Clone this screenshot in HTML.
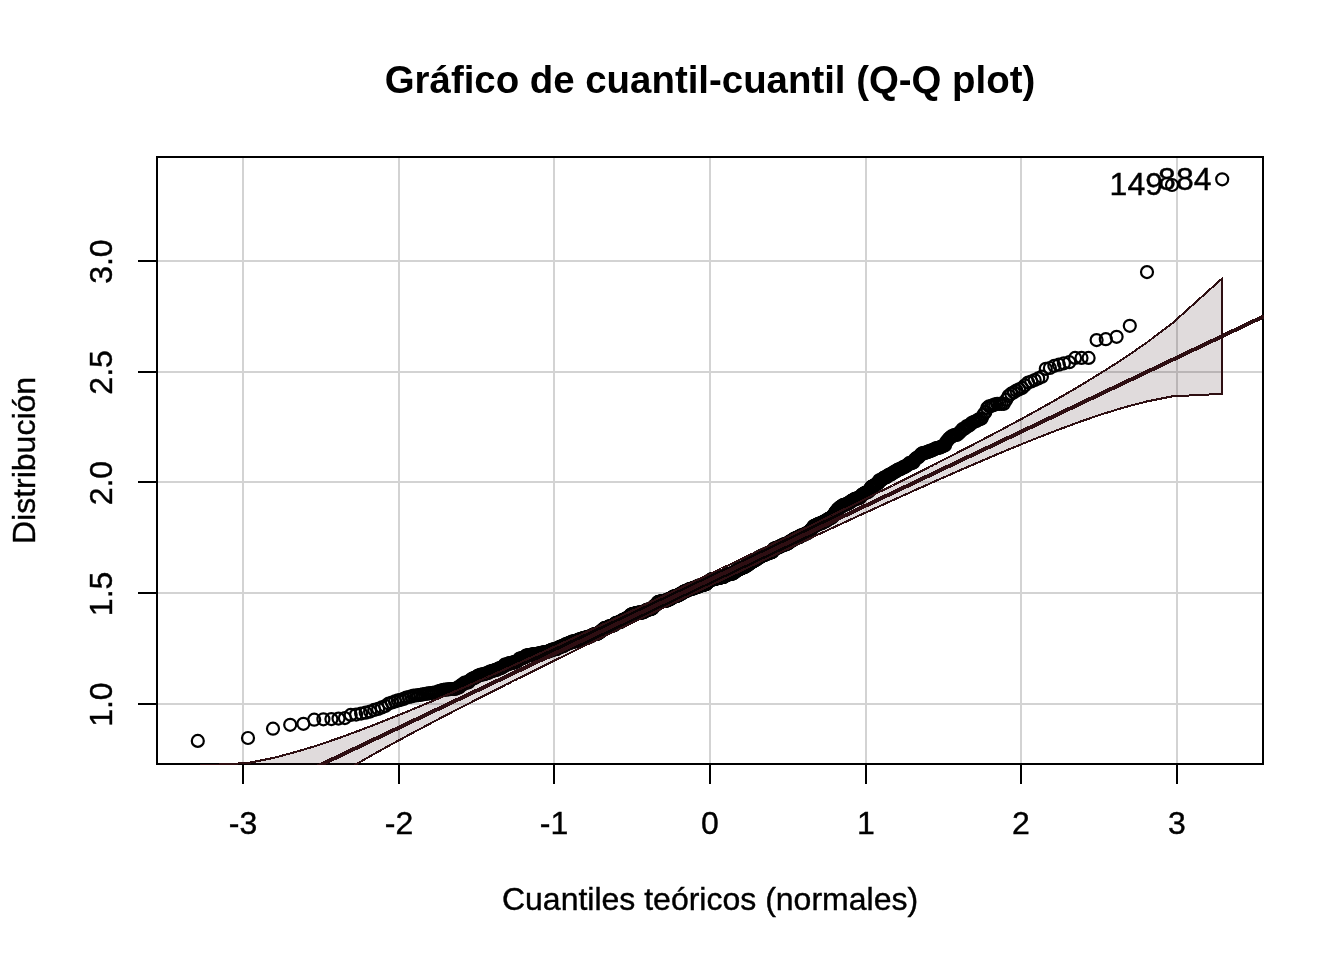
<!DOCTYPE html>
<html lang="es"><head><meta charset="utf-8"><title>Gráfico de cuantil-cuantil (Q-Q plot)</title>
<style>html,body{margin:0;padding:0;background:#fff;}svg{display:block;}text{font-family:"Liberation Sans",sans-serif;fill:#000;stroke:#000;stroke-width:0.4px;}text.b{stroke:none;}</style></head><body>
<svg width="1344" height="960" viewBox="0 0 1344 960">
<rect width="1344" height="960" fill="#fff"/>
<defs><clipPath id="c"><rect x="156" y="156" width="1108" height="609"/></clipPath></defs>
<g stroke="#d3d3d3" stroke-width="2" shape-rendering="crispEdges">
<line x1="243" y1="157" x2="243" y2="764"/>
<line x1="399" y1="157" x2="399" y2="764"/>
<line x1="554" y1="157" x2="554" y2="764"/>
<line x1="710" y1="157" x2="710" y2="764"/>
<line x1="866" y1="157" x2="866" y2="764"/>
<line x1="1021" y1="157" x2="1021" y2="764"/>
<line x1="1177" y1="157" x2="1177" y2="764"/>
<line x1="157" y1="704" x2="1263" y2="704"/>
<line x1="157" y1="593" x2="1263" y2="593"/>
<line x1="157" y1="482" x2="1263" y2="482"/>
<line x1="157" y1="372" x2="1263" y2="372"/>
<line x1="157" y1="261" x2="1263" y2="261"/>
</g>
<g stroke="#000" stroke-width="2" fill="none" shape-rendering="crispEdges">
<rect x="157" y="157" width="1106" height="607"/>
<line x1="243" y1="764" x2="1177" y2="764"/>
<line x1="243" y1="764" x2="243" y2="784"/>
<line x1="399" y1="764" x2="399" y2="784"/>
<line x1="554" y1="764" x2="554" y2="784"/>
<line x1="710" y1="764" x2="710" y2="784"/>
<line x1="866" y1="764" x2="866" y2="784"/>
<line x1="1021" y1="764" x2="1021" y2="784"/>
<line x1="1177" y1="764" x2="1177" y2="784"/>
<line x1="157" y1="704" x2="138" y2="704"/>
<line x1="157" y1="593" x2="138" y2="593"/>
<line x1="157" y1="482" x2="138" y2="482"/>
<line x1="157" y1="372" x2="138" y2="372"/>
<line x1="157" y1="261" x2="138" y2="261"/>
</g>
<g clip-path="url(#c)"><g fill="none" stroke="#000" stroke-width="2.2" >
<circle cx="197.8" cy="740.9" r="6"/>
<circle cx="248.0" cy="738.0" r="6"/>
<circle cx="273.0" cy="728.7" r="6"/>
<circle cx="290.2" cy="724.8" r="6"/>
<circle cx="303.4" cy="723.8" r="6"/>
<circle cx="314.2" cy="719.7" r="6"/>
<circle cx="323.4" cy="719.3" r="6"/>
<circle cx="331.4" cy="719.1" r="6"/>
<circle cx="338.5" cy="718.6" r="6"/>
<circle cx="344.9" cy="718.1" r="6"/>
<circle cx="350.7" cy="714.9" r="6"/>
<circle cx="356.1" cy="714.6" r="6"/>
<circle cx="361.1" cy="713.6" r="6"/>
<circle cx="365.7" cy="712.7" r="6"/>
<circle cx="370.1" cy="711.6" r="6"/>
<circle cx="374.2" cy="709.9" r="6"/>
<circle cx="378.1" cy="708.9" r="6"/>
<circle cx="381.8" cy="707.4" r="6"/>
<circle cx="385.3" cy="706.0" r="6"/>
<circle cx="388.7" cy="703.6" r="6"/>
<circle cx="391.9" cy="702.5" r="6"/>
<circle cx="395.0" cy="701.4" r="6"/>
<circle cx="397.9" cy="700.4" r="6"/>
<circle cx="400.8" cy="699.8" r="6"/>
<circle cx="403.6" cy="698.9" r="6"/>
<circle cx="406.2" cy="697.6" r="6"/>
<circle cx="408.8" cy="697.0" r="6"/>
<circle cx="411.3" cy="696.4" r="6"/>
<circle cx="413.7" cy="695.6" r="6"/>
<circle cx="416.1" cy="695.5" r="6"/>
<circle cx="418.4" cy="695.1" r="6"/>
<circle cx="420.6" cy="694.8" r="6"/>
<circle cx="422.8" cy="694.4" r="6"/>
<circle cx="424.9" cy="694.0" r="6"/>
<circle cx="426.9" cy="693.7" r="6"/>
<circle cx="428.9" cy="693.4" r="6"/>
<circle cx="430.9" cy="693.0" r="6"/>
<circle cx="432.8" cy="692.8" r="6"/>
<circle cx="434.7" cy="692.6" r="6"/>
<circle cx="436.6" cy="692.4" r="6"/>
<circle cx="438.4" cy="691.4" r="6"/>
<circle cx="440.1" cy="690.9" r="6"/>
<circle cx="441.9" cy="690.3" r="6"/>
<circle cx="443.6" cy="689.9" r="6"/>
<circle cx="445.3" cy="689.7" r="6"/>
<circle cx="446.9" cy="689.5" r="6"/>
<circle cx="448.5" cy="689.3" r="6"/>
<circle cx="450.1" cy="689.1" r="6"/>
<circle cx="451.7" cy="689.0" r="6"/>
<circle cx="453.2" cy="689.0" r="6"/>
<circle cx="454.7" cy="689.0" r="6"/>
<circle cx="456.2" cy="688.5" r="6"/>
<circle cx="457.7" cy="687.4" r="6"/>
<circle cx="459.1" cy="687.4" r="6"/>
<circle cx="460.5" cy="686.0" r="6"/>
<circle cx="461.9" cy="684.5" r="6"/>
<circle cx="463.3" cy="684.3" r="6"/>
<circle cx="464.7" cy="682.6" r="6"/>
<circle cx="466.0" cy="682.5" r="6"/>
<circle cx="467.3" cy="682.4" r="6"/>
<circle cx="468.6" cy="682.3" r="6"/>
<circle cx="469.9" cy="680.6" r="6"/>
<circle cx="471.2" cy="679.3" r="6"/>
<circle cx="472.4" cy="678.7" r="6"/>
<circle cx="473.7" cy="678.2" r="6"/>
<circle cx="474.9" cy="677.8" r="6"/>
<circle cx="476.1" cy="677.0" r="6"/>
<circle cx="477.3" cy="676.2" r="6"/>
<circle cx="478.5" cy="675.5" r="6"/>
<circle cx="479.7" cy="675.1" r="6"/>
<circle cx="480.8" cy="674.7" r="6"/>
<circle cx="482.0" cy="674.5" r="6"/>
<circle cx="483.1" cy="674.3" r="6"/>
<circle cx="484.3" cy="674.2" r="6"/>
<circle cx="485.4" cy="673.6" r="6"/>
<circle cx="486.5" cy="673.3" r="6"/>
<circle cx="487.5" cy="673.0" r="6"/>
<circle cx="488.6" cy="672.8" r="6"/>
<circle cx="489.7" cy="671.6" r="6"/>
<circle cx="490.8" cy="671.6" r="6"/>
<circle cx="491.8" cy="671.2" r="6"/>
<circle cx="492.8" cy="670.8" r="6"/>
<circle cx="493.9" cy="670.5" r="6"/>
<circle cx="494.9" cy="670.0" r="6"/>
<circle cx="495.9" cy="669.9" r="6"/>
<circle cx="496.9" cy="669.8" r="6"/>
<circle cx="497.9" cy="668.9" r="6"/>
<circle cx="498.9" cy="668.4" r="6"/>
<circle cx="499.8" cy="668.3" r="6"/>
<circle cx="500.8" cy="668.2" r="6"/>
<circle cx="501.8" cy="667.3" r="6"/>
<circle cx="502.7" cy="667.1" r="6"/>
<circle cx="503.7" cy="666.5" r="6"/>
<circle cx="504.6" cy="664.7" r="6"/>
<circle cx="505.5" cy="664.7" r="6"/>
<circle cx="506.4" cy="664.6" r="6"/>
<circle cx="507.4" cy="664.4" r="6"/>
<circle cx="508.3" cy="664.2" r="6"/>
<circle cx="509.2" cy="663.2" r="6"/>
<circle cx="510.1" cy="663.2" r="6"/>
<circle cx="510.9" cy="663.2" r="6"/>
<circle cx="511.8" cy="663.2" r="6"/>
<circle cx="512.7" cy="663.0" r="6"/>
<circle cx="513.6" cy="662.1" r="6"/>
<circle cx="514.4" cy="662.1" r="6"/>
<circle cx="515.3" cy="661.9" r="6"/>
<circle cx="516.1" cy="661.9" r="6"/>
<circle cx="517.0" cy="661.4" r="6"/>
<circle cx="517.8" cy="660.4" r="6"/>
<circle cx="518.7" cy="660.2" r="6"/>
<circle cx="519.5" cy="658.6" r="6"/>
<circle cx="520.3" cy="658.5" r="6"/>
<circle cx="521.1" cy="658.4" r="6"/>
<circle cx="521.9" cy="658.4" r="6"/>
<circle cx="522.7" cy="658.1" r="6"/>
<circle cx="523.5" cy="657.6" r="6"/>
<circle cx="524.3" cy="657.5" r="6"/>
<circle cx="525.1" cy="657.2" r="6"/>
<circle cx="525.9" cy="655.7" r="6"/>
<circle cx="526.7" cy="655.6" r="6"/>
<circle cx="527.5" cy="655.6" r="6"/>
<circle cx="528.3" cy="655.2" r="6"/>
<circle cx="529.0" cy="655.2" r="6"/>
<circle cx="529.8" cy="655.2" r="6"/>
<circle cx="530.5" cy="655.1" r="6"/>
<circle cx="531.3" cy="655.0" r="6"/>
<circle cx="532.1" cy="654.4" r="6"/>
<circle cx="532.8" cy="654.4" r="6"/>
<circle cx="533.5" cy="654.4" r="6"/>
<circle cx="534.3" cy="654.3" r="6"/>
<circle cx="535.0" cy="654.1" r="6"/>
<circle cx="535.8" cy="654.0" r="6"/>
<circle cx="536.5" cy="653.9" r="6"/>
<circle cx="537.2" cy="653.8" r="6"/>
<circle cx="537.9" cy="653.8" r="6"/>
<circle cx="538.6" cy="653.6" r="6"/>
<circle cx="539.4" cy="653.4" r="6"/>
<circle cx="540.1" cy="653.3" r="6"/>
<circle cx="540.8" cy="653.0" r="6"/>
<circle cx="541.5" cy="652.9" r="6"/>
<circle cx="542.2" cy="652.7" r="6"/>
<circle cx="542.9" cy="652.6" r="6"/>
<circle cx="543.6" cy="652.6" r="6"/>
<circle cx="544.3" cy="652.4" r="6"/>
<circle cx="544.9" cy="652.3" r="6"/>
<circle cx="545.6" cy="652.1" r="6"/>
<circle cx="546.3" cy="652.0" r="6"/>
<circle cx="547.0" cy="651.9" r="6"/>
<circle cx="547.7" cy="651.6" r="6"/>
<circle cx="548.3" cy="651.5" r="6"/>
<circle cx="549.0" cy="651.3" r="6"/>
<circle cx="549.7" cy="650.8" r="6"/>
<circle cx="550.3" cy="650.7" r="6"/>
<circle cx="551.0" cy="650.3" r="6"/>
<circle cx="551.6" cy="649.8" r="6"/>
<circle cx="552.3" cy="649.7" r="6"/>
<circle cx="552.9" cy="649.6" r="6"/>
<circle cx="553.6" cy="649.5" r="6"/>
<circle cx="554.2" cy="649.3" r="6"/>
<circle cx="554.9" cy="649.3" r="6"/>
<circle cx="555.5" cy="649.2" r="6"/>
<circle cx="556.2" cy="649.0" r="6"/>
<circle cx="556.8" cy="648.9" r="6"/>
<circle cx="557.4" cy="648.6" r="6"/>
<circle cx="558.0" cy="647.7" r="6"/>
<circle cx="558.7" cy="647.5" r="6"/>
<circle cx="559.3" cy="647.3" r="6"/>
<circle cx="559.9" cy="647.1" r="6"/>
<circle cx="560.5" cy="646.9" r="6"/>
<circle cx="561.2" cy="646.4" r="6"/>
<circle cx="561.8" cy="646.3" r="6"/>
<circle cx="562.4" cy="646.2" r="6"/>
<circle cx="563.0" cy="646.1" r="6"/>
<circle cx="563.6" cy="646.1" r="6"/>
<circle cx="564.2" cy="645.6" r="6"/>
<circle cx="564.8" cy="644.8" r="6"/>
<circle cx="565.4" cy="644.3" r="6"/>
<circle cx="566.0" cy="644.3" r="6"/>
<circle cx="566.6" cy="644.1" r="6"/>
<circle cx="567.2" cy="644.1" r="6"/>
<circle cx="567.8" cy="643.5" r="6"/>
<circle cx="568.4" cy="643.3" r="6"/>
<circle cx="569.0" cy="643.2" r="6"/>
<circle cx="569.6" cy="643.0" r="6"/>
<circle cx="570.2" cy="642.6" r="6"/>
<circle cx="570.7" cy="642.6" r="6"/>
<circle cx="571.3" cy="642.3" r="6"/>
<circle cx="571.9" cy="641.6" r="6"/>
<circle cx="572.5" cy="641.6" r="6"/>
<circle cx="573.1" cy="641.5" r="6"/>
<circle cx="573.6" cy="641.5" r="6"/>
<circle cx="574.2" cy="641.4" r="6"/>
<circle cx="574.8" cy="641.3" r="6"/>
<circle cx="575.3" cy="641.3" r="6"/>
<circle cx="575.9" cy="641.2" r="6"/>
<circle cx="576.5" cy="640.7" r="6"/>
<circle cx="577.0" cy="640.6" r="6"/>
<circle cx="577.6" cy="640.5" r="6"/>
<circle cx="578.2" cy="639.8" r="6"/>
<circle cx="578.7" cy="639.7" r="6"/>
<circle cx="579.3" cy="639.6" r="6"/>
<circle cx="579.8" cy="639.3" r="6"/>
<circle cx="580.4" cy="639.3" r="6"/>
<circle cx="580.9" cy="639.3" r="6"/>
<circle cx="581.5" cy="638.8" r="6"/>
<circle cx="582.0" cy="638.6" r="6"/>
<circle cx="582.6" cy="638.5" r="6"/>
<circle cx="583.1" cy="638.1" r="6"/>
<circle cx="583.7" cy="638.0" r="6"/>
<circle cx="584.2" cy="637.9" r="6"/>
<circle cx="584.7" cy="637.9" r="6"/>
<circle cx="585.3" cy="637.8" r="6"/>
<circle cx="585.8" cy="637.5" r="6"/>
<circle cx="586.3" cy="637.3" r="6"/>
<circle cx="586.9" cy="637.3" r="6"/>
<circle cx="587.4" cy="637.1" r="6"/>
<circle cx="587.9" cy="636.9" r="6"/>
<circle cx="588.5" cy="636.8" r="6"/>
<circle cx="589.0" cy="636.7" r="6"/>
<circle cx="589.5" cy="636.7" r="6"/>
<circle cx="590.1" cy="636.6" r="6"/>
<circle cx="590.6" cy="636.3" r="6"/>
<circle cx="591.1" cy="636.2" r="6"/>
<circle cx="591.6" cy="635.6" r="6"/>
<circle cx="592.1" cy="635.3" r="6"/>
<circle cx="592.7" cy="635.1" r="6"/>
<circle cx="593.2" cy="634.6" r="6"/>
<circle cx="593.7" cy="634.5" r="6"/>
<circle cx="594.2" cy="634.3" r="6"/>
<circle cx="594.7" cy="634.2" r="6"/>
<circle cx="595.2" cy="634.1" r="6"/>
<circle cx="595.8" cy="634.0" r="6"/>
<circle cx="596.3" cy="634.0" r="6"/>
<circle cx="596.8" cy="633.9" r="6"/>
<circle cx="597.3" cy="633.7" r="6"/>
<circle cx="597.8" cy="633.5" r="6"/>
<circle cx="598.3" cy="633.1" r="6"/>
<circle cx="598.8" cy="633.1" r="6"/>
<circle cx="599.3" cy="632.5" r="6"/>
<circle cx="599.8" cy="631.9" r="6"/>
<circle cx="600.3" cy="631.7" r="6"/>
<circle cx="600.8" cy="631.5" r="6"/>
<circle cx="601.3" cy="630.9" r="6"/>
<circle cx="601.8" cy="630.8" r="6"/>
<circle cx="602.3" cy="630.2" r="6"/>
<circle cx="602.8" cy="629.6" r="6"/>
<circle cx="603.3" cy="629.1" r="6"/>
<circle cx="603.8" cy="629.1" r="6"/>
<circle cx="604.3" cy="628.2" r="6"/>
<circle cx="604.8" cy="628.1" r="6"/>
<circle cx="605.2" cy="628.1" r="6"/>
<circle cx="605.7" cy="628.0" r="6"/>
<circle cx="606.2" cy="627.9" r="6"/>
<circle cx="606.7" cy="627.7" r="6"/>
<circle cx="607.2" cy="627.7" r="6"/>
<circle cx="607.7" cy="627.4" r="6"/>
<circle cx="608.2" cy="627.2" r="6"/>
<circle cx="608.6" cy="626.8" r="6"/>
<circle cx="609.1" cy="626.4" r="6"/>
<circle cx="609.6" cy="626.3" r="6"/>
<circle cx="610.1" cy="626.3" r="6"/>
<circle cx="610.6" cy="626.3" r="6"/>
<circle cx="611.0" cy="626.2" r="6"/>
<circle cx="611.5" cy="626.1" r="6"/>
<circle cx="612.0" cy="625.8" r="6"/>
<circle cx="612.5" cy="625.6" r="6"/>
<circle cx="613.0" cy="625.4" r="6"/>
<circle cx="613.4" cy="625.3" r="6"/>
<circle cx="613.9" cy="625.0" r="6"/>
<circle cx="614.4" cy="624.9" r="6"/>
<circle cx="614.8" cy="624.4" r="6"/>
<circle cx="615.3" cy="623.3" r="6"/>
<circle cx="615.8" cy="623.1" r="6"/>
<circle cx="616.2" cy="623.0" r="6"/>
<circle cx="616.7" cy="623.0" r="6"/>
<circle cx="617.2" cy="622.8" r="6"/>
<circle cx="617.6" cy="622.6" r="6"/>
<circle cx="618.1" cy="622.6" r="6"/>
<circle cx="618.6" cy="622.4" r="6"/>
<circle cx="619.0" cy="622.2" r="6"/>
<circle cx="619.5" cy="622.1" r="6"/>
<circle cx="620.0" cy="622.0" r="6"/>
<circle cx="620.4" cy="621.8" r="6"/>
<circle cx="620.9" cy="621.7" r="6"/>
<circle cx="621.3" cy="621.3" r="6"/>
<circle cx="621.8" cy="621.0" r="6"/>
<circle cx="622.3" cy="620.1" r="6"/>
<circle cx="622.7" cy="620.0" r="6"/>
<circle cx="623.2" cy="620.0" r="6"/>
<circle cx="623.6" cy="619.9" r="6"/>
<circle cx="624.1" cy="619.5" r="6"/>
<circle cx="624.5" cy="619.4" r="6"/>
<circle cx="625.0" cy="619.1" r="6"/>
<circle cx="625.4" cy="618.9" r="6"/>
<circle cx="625.9" cy="618.8" r="6"/>
<circle cx="626.3" cy="618.5" r="6"/>
<circle cx="626.8" cy="618.0" r="6"/>
<circle cx="627.2" cy="617.8" r="6"/>
<circle cx="627.7" cy="617.7" r="6"/>
<circle cx="628.1" cy="617.4" r="6"/>
<circle cx="628.6" cy="617.2" r="6"/>
<circle cx="629.0" cy="616.6" r="6"/>
<circle cx="629.5" cy="616.5" r="6"/>
<circle cx="629.9" cy="616.0" r="6"/>
<circle cx="630.4" cy="615.1" r="6"/>
<circle cx="630.8" cy="614.9" r="6"/>
<circle cx="631.3" cy="614.5" r="6"/>
<circle cx="631.7" cy="614.4" r="6"/>
<circle cx="632.1" cy="614.4" r="6"/>
<circle cx="632.6" cy="614.2" r="6"/>
<circle cx="633.0" cy="614.0" r="6"/>
<circle cx="633.5" cy="613.9" r="6"/>
<circle cx="633.9" cy="613.9" r="6"/>
<circle cx="634.4" cy="613.7" r="6"/>
<circle cx="634.8" cy="613.6" r="6"/>
<circle cx="635.2" cy="613.6" r="6"/>
<circle cx="635.7" cy="613.6" r="6"/>
<circle cx="636.1" cy="613.0" r="6"/>
<circle cx="636.5" cy="613.0" r="6"/>
<circle cx="637.0" cy="613.0" r="6"/>
<circle cx="637.4" cy="612.9" r="6"/>
<circle cx="637.8" cy="612.8" r="6"/>
<circle cx="638.3" cy="612.8" r="6"/>
<circle cx="638.7" cy="612.7" r="6"/>
<circle cx="639.1" cy="612.6" r="6"/>
<circle cx="639.6" cy="612.6" r="6"/>
<circle cx="640.0" cy="612.6" r="6"/>
<circle cx="640.4" cy="612.6" r="6"/>
<circle cx="640.9" cy="612.6" r="6"/>
<circle cx="641.3" cy="612.6" r="6"/>
<circle cx="641.7" cy="612.6" r="6"/>
<circle cx="642.2" cy="612.6" r="6"/>
<circle cx="642.6" cy="612.4" r="6"/>
<circle cx="643.0" cy="612.1" r="6"/>
<circle cx="643.4" cy="611.9" r="6"/>
<circle cx="643.9" cy="611.7" r="6"/>
<circle cx="644.3" cy="611.7" r="6"/>
<circle cx="644.7" cy="611.6" r="6"/>
<circle cx="645.2" cy="610.8" r="6"/>
<circle cx="645.6" cy="610.7" r="6"/>
<circle cx="646.0" cy="610.3" r="6"/>
<circle cx="646.4" cy="610.2" r="6"/>
<circle cx="646.9" cy="610.0" r="6"/>
<circle cx="647.3" cy="609.9" r="6"/>
<circle cx="647.7" cy="609.7" r="6"/>
<circle cx="648.1" cy="609.6" r="6"/>
<circle cx="648.5" cy="609.6" r="6"/>
<circle cx="649.0" cy="609.5" r="6"/>
<circle cx="649.4" cy="609.4" r="6"/>
<circle cx="649.8" cy="609.1" r="6"/>
<circle cx="650.2" cy="609.1" r="6"/>
<circle cx="650.6" cy="609.0" r="6"/>
<circle cx="651.1" cy="609.0" r="6"/>
<circle cx="651.5" cy="608.8" r="6"/>
<circle cx="651.9" cy="608.5" r="6"/>
<circle cx="652.3" cy="608.4" r="6"/>
<circle cx="652.7" cy="608.1" r="6"/>
<circle cx="653.2" cy="607.1" r="6"/>
<circle cx="653.6" cy="606.8" r="6"/>
<circle cx="654.0" cy="606.4" r="6"/>
<circle cx="654.4" cy="606.0" r="6"/>
<circle cx="654.8" cy="605.6" r="6"/>
<circle cx="655.2" cy="605.2" r="6"/>
<circle cx="655.7" cy="605.0" r="6"/>
<circle cx="656.1" cy="604.7" r="6"/>
<circle cx="656.5" cy="604.5" r="6"/>
<circle cx="656.9" cy="603.7" r="6"/>
<circle cx="657.3" cy="603.3" r="6"/>
<circle cx="657.7" cy="602.3" r="6"/>
<circle cx="658.1" cy="602.2" r="6"/>
<circle cx="658.5" cy="602.0" r="6"/>
<circle cx="659.0" cy="601.8" r="6"/>
<circle cx="659.4" cy="601.8" r="6"/>
<circle cx="659.8" cy="601.7" r="6"/>
<circle cx="660.2" cy="601.7" r="6"/>
<circle cx="660.6" cy="601.6" r="6"/>
<circle cx="661.0" cy="601.6" r="6"/>
<circle cx="661.4" cy="601.4" r="6"/>
<circle cx="661.8" cy="601.3" r="6"/>
<circle cx="662.2" cy="601.2" r="6"/>
<circle cx="662.7" cy="601.1" r="6"/>
<circle cx="663.1" cy="601.0" r="6"/>
<circle cx="663.5" cy="601.0" r="6"/>
<circle cx="663.9" cy="600.9" r="6"/>
<circle cx="664.3" cy="600.8" r="6"/>
<circle cx="664.7" cy="600.8" r="6"/>
<circle cx="665.1" cy="600.6" r="6"/>
<circle cx="665.5" cy="600.6" r="6"/>
<circle cx="665.9" cy="600.6" r="6"/>
<circle cx="666.3" cy="600.4" r="6"/>
<circle cx="666.7" cy="600.4" r="6"/>
<circle cx="667.1" cy="600.3" r="6"/>
<circle cx="667.5" cy="600.3" r="6"/>
<circle cx="667.9" cy="600.3" r="6"/>
<circle cx="668.3" cy="599.4" r="6"/>
<circle cx="668.7" cy="599.2" r="6"/>
<circle cx="669.2" cy="599.2" r="6"/>
<circle cx="669.6" cy="599.2" r="6"/>
<circle cx="670.0" cy="599.2" r="6"/>
<circle cx="670.4" cy="598.8" r="6"/>
<circle cx="670.8" cy="598.4" r="6"/>
<circle cx="671.2" cy="598.1" r="6"/>
<circle cx="671.6" cy="597.9" r="6"/>
<circle cx="672.0" cy="597.8" r="6"/>
<circle cx="672.4" cy="597.7" r="6"/>
<circle cx="672.8" cy="597.3" r="6"/>
<circle cx="673.2" cy="596.6" r="6"/>
<circle cx="673.6" cy="596.6" r="6"/>
<circle cx="674.0" cy="596.5" r="6"/>
<circle cx="674.4" cy="596.5" r="6"/>
<circle cx="674.8" cy="596.3" r="6"/>
<circle cx="675.2" cy="596.3" r="6"/>
<circle cx="675.6" cy="596.0" r="6"/>
<circle cx="676.0" cy="596.0" r="6"/>
<circle cx="676.4" cy="596.0" r="6"/>
<circle cx="676.8" cy="595.9" r="6"/>
<circle cx="677.2" cy="595.8" r="6"/>
<circle cx="677.6" cy="595.5" r="6"/>
<circle cx="678.0" cy="595.2" r="6"/>
<circle cx="678.4" cy="595.1" r="6"/>
<circle cx="678.8" cy="595.1" r="6"/>
<circle cx="679.2" cy="595.1" r="6"/>
<circle cx="679.6" cy="594.5" r="6"/>
<circle cx="680.0" cy="594.0" r="6"/>
<circle cx="680.4" cy="593.8" r="6"/>
<circle cx="680.8" cy="593.6" r="6"/>
<circle cx="681.2" cy="593.6" r="6"/>
<circle cx="681.6" cy="593.5" r="6"/>
<circle cx="681.9" cy="593.4" r="6"/>
<circle cx="682.3" cy="593.1" r="6"/>
<circle cx="682.7" cy="592.4" r="6"/>
<circle cx="683.1" cy="592.2" r="6"/>
<circle cx="683.5" cy="592.1" r="6"/>
<circle cx="683.9" cy="591.9" r="6"/>
<circle cx="684.3" cy="591.7" r="6"/>
<circle cx="684.7" cy="591.4" r="6"/>
<circle cx="685.1" cy="591.3" r="6"/>
<circle cx="685.5" cy="591.0" r="6"/>
<circle cx="685.9" cy="591.0" r="6"/>
<circle cx="686.3" cy="590.9" r="6"/>
<circle cx="686.7" cy="590.5" r="6"/>
<circle cx="687.1" cy="590.5" r="6"/>
<circle cx="687.5" cy="590.5" r="6"/>
<circle cx="687.9" cy="590.1" r="6"/>
<circle cx="688.3" cy="589.9" r="6"/>
<circle cx="688.7" cy="589.7" r="6"/>
<circle cx="689.1" cy="589.4" r="6"/>
<circle cx="689.5" cy="589.3" r="6"/>
<circle cx="689.8" cy="589.3" r="6"/>
<circle cx="690.2" cy="589.2" r="6"/>
<circle cx="690.6" cy="589.0" r="6"/>
<circle cx="691.0" cy="588.9" r="6"/>
<circle cx="691.4" cy="588.9" r="6"/>
<circle cx="691.8" cy="588.8" r="6"/>
<circle cx="692.2" cy="588.7" r="6"/>
<circle cx="692.6" cy="588.7" r="6"/>
<circle cx="693.0" cy="588.0" r="6"/>
<circle cx="693.4" cy="587.9" r="6"/>
<circle cx="693.8" cy="587.9" r="6"/>
<circle cx="694.2" cy="587.9" r="6"/>
<circle cx="694.6" cy="587.7" r="6"/>
<circle cx="695.0" cy="587.6" r="6"/>
<circle cx="695.3" cy="587.5" r="6"/>
<circle cx="695.7" cy="587.4" r="6"/>
<circle cx="696.1" cy="587.3" r="6"/>
<circle cx="696.5" cy="587.1" r="6"/>
<circle cx="696.9" cy="587.0" r="6"/>
<circle cx="697.3" cy="587.0" r="6"/>
<circle cx="697.7" cy="586.9" r="6"/>
<circle cx="698.1" cy="585.8" r="6"/>
<circle cx="698.5" cy="585.8" r="6"/>
<circle cx="698.9" cy="585.7" r="6"/>
<circle cx="699.3" cy="585.7" r="6"/>
<circle cx="699.7" cy="585.7" r="6"/>
<circle cx="700.0" cy="585.7" r="6"/>
<circle cx="700.4" cy="585.6" r="6"/>
<circle cx="700.8" cy="585.5" r="6"/>
<circle cx="701.2" cy="585.4" r="6"/>
<circle cx="701.6" cy="585.3" r="6"/>
<circle cx="702.0" cy="585.2" r="6"/>
<circle cx="702.4" cy="585.1" r="6"/>
<circle cx="702.8" cy="585.1" r="6"/>
<circle cx="703.2" cy="585.0" r="6"/>
<circle cx="703.6" cy="584.8" r="6"/>
<circle cx="704.0" cy="584.8" r="6"/>
<circle cx="704.3" cy="584.4" r="6"/>
<circle cx="704.7" cy="584.3" r="6"/>
<circle cx="705.1" cy="584.3" r="6"/>
<circle cx="705.5" cy="584.2" r="6"/>
<circle cx="705.9" cy="584.0" r="6"/>
<circle cx="706.3" cy="583.9" r="6"/>
<circle cx="706.7" cy="583.4" r="6"/>
<circle cx="707.1" cy="582.5" r="6"/>
<circle cx="707.5" cy="582.1" r="6"/>
<circle cx="707.9" cy="581.9" r="6"/>
<circle cx="708.2" cy="581.7" r="6"/>
<circle cx="708.6" cy="581.4" r="6"/>
<circle cx="709.0" cy="581.0" r="6"/>
<circle cx="709.4" cy="580.9" r="6"/>
<circle cx="709.8" cy="580.7" r="6"/>
<circle cx="710.2" cy="580.3" r="6"/>
<circle cx="710.6" cy="580.2" r="6"/>
<circle cx="711.0" cy="579.5" r="6"/>
<circle cx="711.4" cy="579.4" r="6"/>
<circle cx="711.8" cy="579.4" r="6"/>
<circle cx="712.1" cy="579.4" r="6"/>
<circle cx="712.5" cy="579.4" r="6"/>
<circle cx="712.9" cy="579.4" r="6"/>
<circle cx="713.3" cy="579.3" r="6"/>
<circle cx="713.7" cy="579.2" r="6"/>
<circle cx="714.1" cy="579.1" r="6"/>
<circle cx="714.5" cy="579.0" r="6"/>
<circle cx="714.9" cy="578.9" r="6"/>
<circle cx="715.3" cy="578.9" r="6"/>
<circle cx="715.7" cy="578.7" r="6"/>
<circle cx="716.0" cy="578.5" r="6"/>
<circle cx="716.4" cy="578.3" r="6"/>
<circle cx="716.8" cy="578.3" r="6"/>
<circle cx="717.2" cy="578.1" r="6"/>
<circle cx="717.6" cy="578.1" r="6"/>
<circle cx="718.0" cy="578.0" r="6"/>
<circle cx="718.4" cy="578.0" r="6"/>
<circle cx="718.8" cy="577.9" r="6"/>
<circle cx="719.2" cy="577.9" r="6"/>
<circle cx="719.6" cy="577.6" r="6"/>
<circle cx="720.0" cy="577.6" r="6"/>
<circle cx="720.3" cy="577.5" r="6"/>
<circle cx="720.7" cy="577.5" r="6"/>
<circle cx="721.1" cy="577.3" r="6"/>
<circle cx="721.5" cy="577.3" r="6"/>
<circle cx="721.9" cy="577.2" r="6"/>
<circle cx="722.3" cy="577.0" r="6"/>
<circle cx="722.7" cy="577.0" r="6"/>
<circle cx="723.1" cy="577.0" r="6"/>
<circle cx="723.5" cy="576.9" r="6"/>
<circle cx="723.9" cy="576.8" r="6"/>
<circle cx="724.3" cy="576.6" r="6"/>
<circle cx="724.7" cy="575.4" r="6"/>
<circle cx="725.0" cy="575.4" r="6"/>
<circle cx="725.4" cy="575.1" r="6"/>
<circle cx="725.8" cy="575.0" r="6"/>
<circle cx="726.2" cy="575.0" r="6"/>
<circle cx="726.6" cy="574.9" r="6"/>
<circle cx="727.0" cy="574.8" r="6"/>
<circle cx="727.4" cy="574.7" r="6"/>
<circle cx="727.8" cy="574.7" r="6"/>
<circle cx="728.2" cy="574.6" r="6"/>
<circle cx="728.6" cy="574.3" r="6"/>
<circle cx="729.0" cy="574.2" r="6"/>
<circle cx="729.4" cy="574.0" r="6"/>
<circle cx="729.8" cy="573.9" r="6"/>
<circle cx="730.2" cy="573.9" r="6"/>
<circle cx="730.5" cy="573.6" r="6"/>
<circle cx="730.9" cy="573.6" r="6"/>
<circle cx="731.3" cy="573.6" r="6"/>
<circle cx="731.7" cy="573.6" r="6"/>
<circle cx="732.1" cy="573.6" r="6"/>
<circle cx="732.5" cy="573.6" r="6"/>
<circle cx="732.9" cy="573.4" r="6"/>
<circle cx="733.3" cy="573.3" r="6"/>
<circle cx="733.7" cy="572.3" r="6"/>
<circle cx="734.1" cy="572.3" r="6"/>
<circle cx="734.5" cy="572.2" r="6"/>
<circle cx="734.9" cy="572.0" r="6"/>
<circle cx="735.3" cy="571.2" r="6"/>
<circle cx="735.7" cy="571.0" r="6"/>
<circle cx="736.1" cy="570.9" r="6"/>
<circle cx="736.5" cy="570.8" r="6"/>
<circle cx="736.9" cy="570.2" r="6"/>
<circle cx="737.3" cy="570.0" r="6"/>
<circle cx="737.7" cy="569.8" r="6"/>
<circle cx="738.1" cy="569.6" r="6"/>
<circle cx="738.4" cy="569.6" r="6"/>
<circle cx="738.8" cy="569.5" r="6"/>
<circle cx="739.2" cy="569.2" r="6"/>
<circle cx="739.6" cy="569.0" r="6"/>
<circle cx="740.0" cy="568.7" r="6"/>
<circle cx="740.4" cy="568.6" r="6"/>
<circle cx="740.8" cy="568.5" r="6"/>
<circle cx="741.2" cy="568.3" r="6"/>
<circle cx="741.6" cy="568.2" r="6"/>
<circle cx="742.0" cy="568.1" r="6"/>
<circle cx="742.4" cy="567.6" r="6"/>
<circle cx="742.8" cy="567.4" r="6"/>
<circle cx="743.2" cy="567.3" r="6"/>
<circle cx="743.6" cy="567.3" r="6"/>
<circle cx="744.0" cy="567.2" r="6"/>
<circle cx="744.4" cy="567.0" r="6"/>
<circle cx="744.8" cy="566.8" r="6"/>
<circle cx="745.2" cy="566.5" r="6"/>
<circle cx="745.6" cy="566.3" r="6"/>
<circle cx="746.0" cy="566.3" r="6"/>
<circle cx="746.4" cy="565.5" r="6"/>
<circle cx="746.8" cy="564.9" r="6"/>
<circle cx="747.2" cy="564.8" r="6"/>
<circle cx="747.6" cy="564.8" r="6"/>
<circle cx="748.0" cy="564.7" r="6"/>
<circle cx="748.4" cy="564.7" r="6"/>
<circle cx="748.8" cy="564.0" r="6"/>
<circle cx="749.2" cy="563.6" r="6"/>
<circle cx="749.6" cy="563.6" r="6"/>
<circle cx="750.0" cy="563.2" r="6"/>
<circle cx="750.4" cy="562.8" r="6"/>
<circle cx="750.8" cy="562.4" r="6"/>
<circle cx="751.3" cy="562.3" r="6"/>
<circle cx="751.7" cy="562.1" r="6"/>
<circle cx="752.1" cy="561.8" r="6"/>
<circle cx="752.5" cy="561.7" r="6"/>
<circle cx="752.9" cy="561.5" r="6"/>
<circle cx="753.3" cy="561.2" r="6"/>
<circle cx="753.7" cy="561.1" r="6"/>
<circle cx="754.1" cy="560.5" r="6"/>
<circle cx="754.5" cy="560.4" r="6"/>
<circle cx="754.9" cy="560.1" r="6"/>
<circle cx="755.3" cy="560.1" r="6"/>
<circle cx="755.7" cy="559.8" r="6"/>
<circle cx="756.1" cy="559.6" r="6"/>
<circle cx="756.5" cy="559.5" r="6"/>
<circle cx="756.9" cy="559.3" r="6"/>
<circle cx="757.3" cy="558.2" r="6"/>
<circle cx="757.8" cy="558.1" r="6"/>
<circle cx="758.2" cy="557.7" r="6"/>
<circle cx="758.6" cy="557.6" r="6"/>
<circle cx="759.0" cy="557.4" r="6"/>
<circle cx="759.4" cy="557.3" r="6"/>
<circle cx="759.8" cy="557.0" r="6"/>
<circle cx="760.2" cy="556.8" r="6"/>
<circle cx="760.6" cy="556.6" r="6"/>
<circle cx="761.0" cy="556.3" r="6"/>
<circle cx="761.5" cy="555.9" r="6"/>
<circle cx="761.9" cy="555.6" r="6"/>
<circle cx="762.3" cy="555.5" r="6"/>
<circle cx="762.7" cy="555.5" r="6"/>
<circle cx="763.1" cy="555.4" r="6"/>
<circle cx="763.5" cy="555.3" r="6"/>
<circle cx="763.9" cy="555.2" r="6"/>
<circle cx="764.3" cy="554.9" r="6"/>
<circle cx="764.8" cy="554.8" r="6"/>
<circle cx="765.2" cy="554.6" r="6"/>
<circle cx="765.6" cy="554.3" r="6"/>
<circle cx="766.0" cy="553.8" r="6"/>
<circle cx="766.4" cy="553.7" r="6"/>
<circle cx="766.8" cy="553.7" r="6"/>
<circle cx="767.3" cy="553.6" r="6"/>
<circle cx="767.7" cy="553.6" r="6"/>
<circle cx="768.1" cy="553.4" r="6"/>
<circle cx="768.5" cy="553.2" r="6"/>
<circle cx="768.9" cy="553.0" r="6"/>
<circle cx="769.4" cy="552.7" r="6"/>
<circle cx="769.8" cy="552.7" r="6"/>
<circle cx="770.2" cy="552.5" r="6"/>
<circle cx="770.6" cy="552.4" r="6"/>
<circle cx="771.0" cy="552.3" r="6"/>
<circle cx="771.5" cy="552.2" r="6"/>
<circle cx="771.9" cy="551.9" r="6"/>
<circle cx="772.3" cy="551.8" r="6"/>
<circle cx="772.7" cy="551.6" r="6"/>
<circle cx="773.1" cy="550.8" r="6"/>
<circle cx="773.6" cy="549.8" r="6"/>
<circle cx="774.0" cy="548.6" r="6"/>
<circle cx="774.4" cy="548.5" r="6"/>
<circle cx="774.8" cy="548.5" r="6"/>
<circle cx="775.3" cy="548.4" r="6"/>
<circle cx="775.7" cy="548.3" r="6"/>
<circle cx="776.1" cy="548.1" r="6"/>
<circle cx="776.6" cy="547.9" r="6"/>
<circle cx="777.0" cy="547.7" r="6"/>
<circle cx="777.4" cy="547.6" r="6"/>
<circle cx="777.8" cy="547.5" r="6"/>
<circle cx="778.3" cy="547.4" r="6"/>
<circle cx="778.7" cy="547.3" r="6"/>
<circle cx="779.1" cy="547.0" r="6"/>
<circle cx="779.6" cy="546.7" r="6"/>
<circle cx="780.0" cy="546.3" r="6"/>
<circle cx="780.4" cy="546.1" r="6"/>
<circle cx="780.9" cy="546.0" r="6"/>
<circle cx="781.3" cy="546.0" r="6"/>
<circle cx="781.7" cy="545.6" r="6"/>
<circle cx="782.2" cy="545.6" r="6"/>
<circle cx="782.6" cy="545.1" r="6"/>
<circle cx="783.0" cy="544.7" r="6"/>
<circle cx="783.5" cy="544.7" r="6"/>
<circle cx="783.9" cy="544.7" r="6"/>
<circle cx="784.3" cy="544.4" r="6"/>
<circle cx="784.8" cy="544.4" r="6"/>
<circle cx="785.2" cy="544.4" r="6"/>
<circle cx="785.6" cy="544.3" r="6"/>
<circle cx="786.1" cy="544.3" r="6"/>
<circle cx="786.5" cy="543.9" r="6"/>
<circle cx="787.0" cy="543.7" r="6"/>
<circle cx="787.4" cy="543.4" r="6"/>
<circle cx="787.9" cy="543.2" r="6"/>
<circle cx="788.3" cy="542.9" r="6"/>
<circle cx="788.7" cy="542.7" r="6"/>
<circle cx="789.2" cy="542.6" r="6"/>
<circle cx="789.6" cy="541.5" r="6"/>
<circle cx="790.1" cy="541.5" r="6"/>
<circle cx="790.5" cy="541.3" r="6"/>
<circle cx="791.0" cy="541.1" r="6"/>
<circle cx="791.4" cy="540.8" r="6"/>
<circle cx="791.9" cy="540.5" r="6"/>
<circle cx="792.3" cy="540.2" r="6"/>
<circle cx="792.8" cy="540.2" r="6"/>
<circle cx="793.2" cy="539.4" r="6"/>
<circle cx="793.7" cy="539.4" r="6"/>
<circle cx="794.1" cy="539.3" r="6"/>
<circle cx="794.6" cy="538.5" r="6"/>
<circle cx="795.0" cy="538.5" r="6"/>
<circle cx="795.5" cy="538.3" r="6"/>
<circle cx="795.9" cy="538.3" r="6"/>
<circle cx="796.4" cy="538.1" r="6"/>
<circle cx="796.8" cy="537.9" r="6"/>
<circle cx="797.3" cy="537.6" r="6"/>
<circle cx="797.7" cy="537.3" r="6"/>
<circle cx="798.2" cy="537.2" r="6"/>
<circle cx="798.7" cy="537.2" r="6"/>
<circle cx="799.1" cy="537.2" r="6"/>
<circle cx="799.6" cy="537.0" r="6"/>
<circle cx="800.0" cy="536.2" r="6"/>
<circle cx="800.5" cy="535.7" r="6"/>
<circle cx="801.0" cy="535.6" r="6"/>
<circle cx="801.4" cy="535.5" r="6"/>
<circle cx="801.9" cy="535.4" r="6"/>
<circle cx="802.4" cy="535.3" r="6"/>
<circle cx="802.8" cy="535.2" r="6"/>
<circle cx="803.3" cy="535.1" r="6"/>
<circle cx="803.8" cy="534.7" r="6"/>
<circle cx="804.2" cy="534.5" r="6"/>
<circle cx="804.7" cy="534.3" r="6"/>
<circle cx="805.2" cy="533.9" r="6"/>
<circle cx="805.6" cy="533.8" r="6"/>
<circle cx="806.1" cy="533.3" r="6"/>
<circle cx="806.6" cy="533.3" r="6"/>
<circle cx="807.0" cy="533.3" r="6"/>
<circle cx="807.5" cy="533.3" r="6"/>
<circle cx="808.0" cy="532.6" r="6"/>
<circle cx="808.5" cy="532.3" r="6"/>
<circle cx="809.0" cy="531.5" r="6"/>
<circle cx="809.4" cy="531.4" r="6"/>
<circle cx="809.9" cy="531.0" r="6"/>
<circle cx="810.4" cy="530.4" r="6"/>
<circle cx="810.9" cy="529.7" r="6"/>
<circle cx="811.4" cy="529.2" r="6"/>
<circle cx="811.8" cy="528.9" r="6"/>
<circle cx="812.3" cy="528.3" r="6"/>
<circle cx="812.8" cy="527.8" r="6"/>
<circle cx="813.3" cy="526.7" r="6"/>
<circle cx="813.8" cy="526.0" r="6"/>
<circle cx="814.3" cy="526.0" r="6"/>
<circle cx="814.8" cy="525.9" r="6"/>
<circle cx="815.2" cy="525.7" r="6"/>
<circle cx="815.7" cy="525.5" r="6"/>
<circle cx="816.2" cy="525.1" r="6"/>
<circle cx="816.7" cy="524.9" r="6"/>
<circle cx="817.2" cy="524.8" r="6"/>
<circle cx="817.7" cy="524.4" r="6"/>
<circle cx="818.2" cy="524.0" r="6"/>
<circle cx="818.7" cy="523.9" r="6"/>
<circle cx="819.2" cy="523.8" r="6"/>
<circle cx="819.7" cy="523.7" r="6"/>
<circle cx="820.2" cy="523.3" r="6"/>
<circle cx="820.7" cy="523.3" r="6"/>
<circle cx="821.2" cy="523.2" r="6"/>
<circle cx="821.7" cy="522.9" r="6"/>
<circle cx="822.2" cy="522.8" r="6"/>
<circle cx="822.7" cy="522.7" r="6"/>
<circle cx="823.2" cy="522.0" r="6"/>
<circle cx="823.7" cy="521.6" r="6"/>
<circle cx="824.2" cy="521.5" r="6"/>
<circle cx="824.8" cy="521.3" r="6"/>
<circle cx="825.3" cy="521.2" r="6"/>
<circle cx="825.8" cy="521.2" r="6"/>
<circle cx="826.3" cy="520.4" r="6"/>
<circle cx="826.8" cy="520.0" r="6"/>
<circle cx="827.3" cy="519.8" r="6"/>
<circle cx="827.9" cy="519.6" r="6"/>
<circle cx="828.4" cy="518.9" r="6"/>
<circle cx="828.9" cy="518.6" r="6"/>
<circle cx="829.4" cy="518.5" r="6"/>
<circle cx="829.9" cy="518.4" r="6"/>
<circle cx="830.5" cy="518.0" r="6"/>
<circle cx="831.0" cy="518.0" r="6"/>
<circle cx="831.5" cy="517.5" r="6"/>
<circle cx="832.1" cy="517.0" r="6"/>
<circle cx="832.6" cy="516.8" r="6"/>
<circle cx="833.1" cy="515.5" r="6"/>
<circle cx="833.7" cy="515.2" r="6"/>
<circle cx="834.2" cy="514.9" r="6"/>
<circle cx="834.7" cy="513.3" r="6"/>
<circle cx="835.3" cy="512.6" r="6"/>
<circle cx="835.8" cy="511.8" r="6"/>
<circle cx="836.3" cy="511.3" r="6"/>
<circle cx="836.9" cy="511.1" r="6"/>
<circle cx="837.4" cy="509.6" r="6"/>
<circle cx="838.0" cy="509.0" r="6"/>
<circle cx="838.5" cy="508.8" r="6"/>
<circle cx="839.1" cy="508.7" r="6"/>
<circle cx="839.6" cy="507.5" r="6"/>
<circle cx="840.2" cy="507.1" r="6"/>
<circle cx="840.7" cy="507.0" r="6"/>
<circle cx="841.3" cy="506.9" r="6"/>
<circle cx="841.8" cy="506.0" r="6"/>
<circle cx="842.4" cy="506.0" r="6"/>
<circle cx="843.0" cy="505.1" r="6"/>
<circle cx="843.5" cy="505.1" r="6"/>
<circle cx="844.1" cy="504.9" r="6"/>
<circle cx="844.7" cy="504.8" r="6"/>
<circle cx="845.2" cy="504.6" r="6"/>
<circle cx="845.8" cy="504.4" r="6"/>
<circle cx="846.4" cy="504.3" r="6"/>
<circle cx="846.9" cy="504.2" r="6"/>
<circle cx="847.5" cy="503.8" r="6"/>
<circle cx="848.1" cy="503.2" r="6"/>
<circle cx="848.7" cy="502.9" r="6"/>
<circle cx="849.3" cy="502.7" r="6"/>
<circle cx="849.8" cy="502.6" r="6"/>
<circle cx="850.4" cy="502.2" r="6"/>
<circle cx="851.0" cy="501.2" r="6"/>
<circle cx="851.6" cy="500.8" r="6"/>
<circle cx="852.2" cy="500.5" r="6"/>
<circle cx="852.8" cy="500.3" r="6"/>
<circle cx="853.4" cy="500.2" r="6"/>
<circle cx="854.0" cy="499.3" r="6"/>
<circle cx="854.6" cy="499.2" r="6"/>
<circle cx="855.2" cy="499.2" r="6"/>
<circle cx="855.8" cy="498.7" r="6"/>
<circle cx="856.4" cy="498.5" r="6"/>
<circle cx="857.0" cy="498.4" r="6"/>
<circle cx="857.6" cy="498.4" r="6"/>
<circle cx="858.2" cy="498.2" r="6"/>
<circle cx="858.8" cy="498.1" r="6"/>
<circle cx="859.5" cy="498.1" r="6"/>
<circle cx="860.1" cy="497.6" r="6"/>
<circle cx="860.7" cy="496.6" r="6"/>
<circle cx="861.3" cy="495.4" r="6"/>
<circle cx="862.0" cy="494.8" r="6"/>
<circle cx="862.6" cy="494.6" r="6"/>
<circle cx="863.2" cy="494.0" r="6"/>
<circle cx="863.8" cy="493.5" r="6"/>
<circle cx="864.5" cy="493.3" r="6"/>
<circle cx="865.1" cy="492.9" r="6"/>
<circle cx="865.8" cy="492.5" r="6"/>
<circle cx="866.4" cy="492.3" r="6"/>
<circle cx="867.1" cy="492.3" r="6"/>
<circle cx="867.7" cy="492.3" r="6"/>
<circle cx="868.4" cy="491.5" r="6"/>
<circle cx="869.0" cy="491.0" r="6"/>
<circle cx="869.7" cy="490.6" r="6"/>
<circle cx="870.3" cy="488.4" r="6"/>
<circle cx="871.0" cy="487.2" r="6"/>
<circle cx="871.7" cy="486.7" r="6"/>
<circle cx="872.3" cy="486.6" r="6"/>
<circle cx="873.0" cy="486.5" r="6"/>
<circle cx="873.7" cy="485.8" r="6"/>
<circle cx="874.4" cy="485.6" r="6"/>
<circle cx="875.1" cy="484.8" r="6"/>
<circle cx="875.7" cy="484.6" r="6"/>
<circle cx="876.4" cy="483.9" r="6"/>
<circle cx="877.1" cy="483.9" r="6"/>
<circle cx="877.8" cy="483.0" r="6"/>
<circle cx="878.5" cy="482.9" r="6"/>
<circle cx="879.2" cy="480.3" r="6"/>
<circle cx="879.9" cy="480.3" r="6"/>
<circle cx="880.6" cy="480.1" r="6"/>
<circle cx="881.4" cy="480.1" r="6"/>
<circle cx="882.1" cy="479.2" r="6"/>
<circle cx="882.8" cy="479.1" r="6"/>
<circle cx="883.5" cy="477.9" r="6"/>
<circle cx="884.2" cy="477.6" r="6"/>
<circle cx="885.0" cy="477.4" r="6"/>
<circle cx="885.7" cy="477.2" r="6"/>
<circle cx="886.5" cy="477.2" r="6"/>
<circle cx="887.2" cy="476.5" r="6"/>
<circle cx="887.9" cy="475.3" r="6"/>
<circle cx="888.7" cy="475.3" r="6"/>
<circle cx="889.5" cy="474.6" r="6"/>
<circle cx="890.2" cy="474.4" r="6"/>
<circle cx="891.0" cy="474.4" r="6"/>
<circle cx="891.7" cy="474.1" r="6"/>
<circle cx="892.5" cy="473.0" r="6"/>
<circle cx="893.3" cy="472.4" r="6"/>
<circle cx="894.1" cy="472.2" r="6"/>
<circle cx="894.9" cy="471.9" r="6"/>
<circle cx="895.7" cy="471.2" r="6"/>
<circle cx="896.5" cy="471.0" r="6"/>
<circle cx="897.3" cy="470.1" r="6"/>
<circle cx="898.1" cy="469.5" r="6"/>
<circle cx="898.9" cy="469.4" r="6"/>
<circle cx="899.7" cy="469.3" r="6"/>
<circle cx="900.5" cy="469.1" r="6"/>
<circle cx="901.3" cy="468.4" r="6"/>
<circle cx="902.2" cy="468.0" r="6"/>
<circle cx="903.0" cy="467.2" r="6"/>
<circle cx="903.9" cy="467.0" r="6"/>
<circle cx="904.7" cy="467.0" r="6"/>
<circle cx="905.6" cy="466.2" r="6"/>
<circle cx="906.4" cy="465.7" r="6"/>
<circle cx="907.3" cy="465.1" r="6"/>
<circle cx="908.2" cy="464.8" r="6"/>
<circle cx="909.1" cy="463.2" r="6"/>
<circle cx="909.9" cy="463.2" r="6"/>
<circle cx="910.8" cy="463.2" r="6"/>
<circle cx="911.7" cy="462.9" r="6"/>
<circle cx="912.6" cy="462.7" r="6"/>
<circle cx="913.6" cy="462.2" r="6"/>
<circle cx="914.5" cy="459.8" r="6"/>
<circle cx="915.4" cy="459.2" r="6"/>
<circle cx="916.3" cy="458.1" r="6"/>
<circle cx="917.3" cy="457.7" r="6"/>
<circle cx="918.2" cy="457.5" r="6"/>
<circle cx="919.2" cy="456.2" r="6"/>
<circle cx="920.2" cy="455.6" r="6"/>
<circle cx="921.1" cy="454.0" r="6"/>
<circle cx="922.1" cy="453.4" r="6"/>
<circle cx="923.1" cy="453.1" r="6"/>
<circle cx="924.1" cy="453.0" r="6"/>
<circle cx="925.1" cy="452.7" r="6"/>
<circle cx="926.1" cy="452.6" r="6"/>
<circle cx="927.2" cy="452.2" r="6"/>
<circle cx="928.2" cy="451.7" r="6"/>
<circle cx="929.2" cy="451.2" r="6"/>
<circle cx="930.3" cy="451.1" r="6"/>
<circle cx="931.4" cy="450.3" r="6"/>
<circle cx="932.5" cy="450.3" r="6"/>
<circle cx="933.5" cy="449.6" r="6"/>
<circle cx="934.6" cy="449.0" r="6"/>
<circle cx="935.7" cy="448.4" r="6"/>
<circle cx="936.9" cy="448.2" r="6"/>
<circle cx="938.0" cy="447.9" r="6"/>
<circle cx="939.2" cy="447.5" r="6"/>
<circle cx="940.3" cy="447.4" r="6"/>
<circle cx="941.5" cy="446.5" r="6"/>
<circle cx="942.7" cy="446.2" r="6"/>
<circle cx="943.9" cy="445.4" r="6"/>
<circle cx="945.1" cy="445.3" r="6"/>
<circle cx="946.3" cy="441.8" r="6"/>
<circle cx="947.6" cy="440.6" r="6"/>
<circle cx="948.8" cy="438.7" r="6"/>
<circle cx="950.1" cy="437.7" r="6"/>
<circle cx="951.4" cy="436.4" r="6"/>
<circle cx="952.7" cy="436.0" r="6"/>
<circle cx="954.0" cy="435.2" r="6"/>
<circle cx="955.3" cy="435.1" r="6"/>
<circle cx="956.7" cy="435.0" r="6"/>
<circle cx="958.1" cy="434.0" r="6"/>
<circle cx="959.5" cy="432.6" r="6"/>
<circle cx="960.9" cy="431.3" r="6"/>
<circle cx="962.3" cy="429.2" r="6"/>
<circle cx="963.8" cy="429.0" r="6"/>
<circle cx="965.3" cy="428.1" r="6"/>
<circle cx="966.8" cy="426.1" r="6"/>
<circle cx="968.3" cy="426.1" r="6"/>
<circle cx="969.9" cy="425.1" r="6"/>
<circle cx="971.5" cy="423.1" r="6"/>
<circle cx="973.1" cy="422.3" r="6"/>
<circle cx="974.7" cy="421.6" r="6"/>
<circle cx="976.4" cy="421.0" r="6"/>
<circle cx="978.1" cy="419.7" r="6"/>
<circle cx="979.9" cy="419.2" r="6"/>
<circle cx="981.6" cy="418.5" r="6"/>
<circle cx="983.4" cy="414.7" r="6"/>
<circle cx="985.3" cy="412.2" r="6"/>
<circle cx="987.2" cy="408.0" r="6"/>
<circle cx="989.1" cy="406.3" r="6"/>
<circle cx="991.1" cy="406.0" r="6"/>
<circle cx="993.1" cy="405.2" r="6"/>
<circle cx="995.1" cy="404.4" r="6"/>
<circle cx="997.2" cy="403.8" r="6"/>
<circle cx="999.4" cy="403.8" r="6"/>
<circle cx="1001.6" cy="403.8" r="6"/>
<circle cx="1003.9" cy="403.8" r="6"/>
<circle cx="1006.3" cy="399.7" r="6"/>
<circle cx="1008.7" cy="395.8" r="6"/>
<circle cx="1011.2" cy="393.7" r="6"/>
<circle cx="1013.8" cy="392.3" r="6"/>
<circle cx="1016.4" cy="390.5" r="6"/>
<circle cx="1019.2" cy="389.3" r="6"/>
<circle cx="1022.1" cy="387.9" r="6"/>
<circle cx="1025.0" cy="385.3" r="6"/>
<circle cx="1028.1" cy="382.5" r="6"/>
<circle cx="1031.3" cy="381.5" r="6"/>
<circle cx="1034.7" cy="380.0" r="6"/>
<circle cx="1038.2" cy="378.4" r="6"/>
<circle cx="1041.9" cy="376.7" r="6"/>
<circle cx="1045.8" cy="368.8" r="6"/>
<circle cx="1049.9" cy="368.0" r="6"/>
<circle cx="1054.3" cy="365.8" r="6"/>
<circle cx="1058.9" cy="364.7" r="6"/>
<circle cx="1063.9" cy="363.3" r="6"/>
<circle cx="1069.3" cy="362.2" r="6"/>
<circle cx="1075.1" cy="357.9" r="6"/>
<circle cx="1081.5" cy="357.9" r="6"/>
<circle cx="1088.6" cy="357.9" r="6"/>
<circle cx="1096.6" cy="340.1" r="6"/>
<circle cx="1105.8" cy="339.2" r="6"/>
<circle cx="1116.6" cy="336.8" r="6"/>
<circle cx="1129.8" cy="325.8" r="6"/>
<circle cx="1147.0" cy="272.1" r="6"/>
<circle cx="1172.0" cy="185.0" r="6"/>
<circle cx="1222.2" cy="179.3" r="6"/>
</g>
<line x1="156" y1="843.14" x2="1264" y2="316.25" stroke="#2e0f12" stroke-width="4" shape-rendering="crispEdges"/>
<path d="M197.8 765.6 L248.0 763.0 L273.0 758.0 L290.2 753.5 L303.4 749.7 L314.2 746.4 L323.4 743.4 L331.4 740.6 L338.5 738.2 L344.9 735.9 L350.7 733.7 L356.1 731.7 L361.1 729.9 L365.7 728.1 L370.1 726.4 L374.2 724.8 L378.1 723.3 L381.8 721.8 L385.3 720.4 L388.7 719.1 L391.9 717.8 L395.0 716.6 L397.9 715.4 L400.8 714.2 L403.6 713.1 L406.2 712.0 L408.8 710.9 L411.3 709.9 L413.7 708.9 L416.1 707.9 L418.4 706.9 L420.6 706.0 L422.8 705.1 L424.9 704.2 L426.9 703.3 L428.9 702.5 L430.9 701.7 L432.8 700.8 L434.7 700.0 L436.6 699.2 L438.4 698.5 L440.1 697.7 L441.9 697.0 L443.6 696.2 L445.3 695.5 L446.9 694.8 L448.5 694.1 L450.1 693.4 L451.7 692.8 L453.2 692.1 L454.7 691.4 L456.2 690.8 L457.7 690.2 L459.1 689.5 L460.5 688.9 L461.9 688.3 L463.3 687.7 L464.7 687.1 L466.0 686.5 L467.3 685.9 L468.6 685.4 L469.9 684.8 L471.2 684.2 L472.4 683.7 L473.7 683.1 L474.9 682.6 L476.1 682.1 L477.3 681.5 L478.5 681.0 L479.7 680.5 L480.8 680.0 L482.0 679.5 L483.1 679.0 L484.3 678.5 L485.4 678.0 L486.5 677.5 L487.5 677.0 L488.6 676.5 L489.7 676.0 L490.8 675.6 L491.8 675.1 L492.8 674.6 L493.9 674.2 L494.9 673.7 L495.9 673.3 L496.9 672.8 L497.9 672.4 L498.9 671.9 L499.8 671.5 L500.8 671.1 L501.8 670.6 L502.7 670.2 L503.7 669.8 L504.6 669.4 L505.5 669.0 L506.4 668.5 L507.4 668.1 L508.3 667.7 L509.2 667.3 L510.1 666.9 L510.9 666.5 L511.8 666.1 L512.7 665.7 L513.6 665.3 L514.4 664.9 L515.3 664.6 L516.1 664.2 L517.0 663.8 L517.8 663.4 L518.7 663.0 L519.5 662.7 L520.3 662.3 L521.1 661.9 L521.9 661.6 L522.7 661.2 L523.5 660.8 L524.3 660.5 L525.1 660.1 L525.9 659.8 L526.7 659.4 L527.5 659.0 L528.3 658.7 L529.0 658.3 L529.8 658.0 L530.5 657.7 L531.3 657.3 L532.1 657.0 L532.8 656.6 L533.5 656.3 L534.3 655.9 L535.0 655.6 L535.8 655.3 L536.5 654.9 L537.2 654.6 L537.9 654.3 L538.6 654.0 L539.4 653.6 L540.1 653.3 L540.8 653.0 L541.5 652.7 L542.2 652.4 L542.9 652.0 L543.6 651.7 L544.3 651.4 L544.9 651.1 L545.6 650.8 L546.3 650.5 L547.0 650.2 L547.7 649.8 L548.3 649.5 L549.0 649.2 L549.7 648.9 L550.3 648.6 L551.0 648.3 L551.6 648.0 L552.3 647.7 L552.9 647.4 L553.6 647.1 L554.2 646.8 L554.9 646.5 L555.5 646.2 L556.2 646.0 L556.8 645.7 L557.4 645.4 L558.0 645.1 L558.7 644.8 L559.3 644.5 L559.9 644.2 L560.5 643.9 L561.2 643.7 L561.8 643.4 L562.4 643.1 L563.0 642.8 L563.6 642.5 L564.2 642.3 L564.8 642.0 L565.4 641.7 L566.0 641.4 L566.6 641.1 L567.2 640.9 L567.8 640.6 L568.4 640.3 L569.0 640.1 L569.6 639.8 L570.2 639.5 L570.7 639.2 L571.3 639.0 L571.9 638.7 L572.5 638.4 L573.1 638.2 L573.6 637.9 L574.2 637.7 L574.8 637.4 L575.3 637.1 L575.9 636.9 L576.5 636.6 L577.0 636.3 L577.6 636.1 L578.2 635.8 L578.7 635.6 L579.3 635.3 L579.8 635.1 L580.4 634.8 L580.9 634.5 L581.5 634.3 L582.0 634.0 L582.6 633.8 L583.1 633.5 L583.7 633.3 L584.2 633.0 L584.7 632.8 L585.3 632.5 L585.8 632.3 L586.3 632.0 L586.9 631.8 L587.4 631.5 L587.9 631.3 L588.5 631.0 L589.0 630.8 L589.5 630.6 L590.1 630.3 L590.6 630.1 L591.1 629.8 L591.6 629.6 L592.1 629.3 L592.7 629.1 L593.2 628.9 L593.7 628.6 L594.2 628.4 L594.7 628.1 L595.2 627.9 L595.8 627.7 L596.3 627.4 L596.8 627.2 L597.3 627.0 L597.8 626.7 L598.3 626.5 L598.8 626.3 L599.3 626.0 L599.8 625.8 L600.3 625.6 L600.8 625.3 L601.3 625.1 L601.8 624.9 L602.3 624.6 L602.8 624.4 L603.3 624.2 L603.8 623.9 L604.3 623.7 L604.8 623.5 L605.2 623.3 L605.7 623.0 L606.2 622.8 L606.7 622.6 L607.2 622.4 L607.7 622.1 L608.2 621.9 L608.6 621.7 L609.1 621.4 L609.6 621.2 L610.1 621.0 L610.6 620.8 L611.0 620.6 L611.5 620.3 L612.0 620.1 L612.5 619.9 L613.0 619.7 L613.4 619.4 L613.9 619.2 L614.4 619.0 L614.8 618.8 L615.3 618.6 L615.8 618.3 L616.2 618.1 L616.7 617.9 L617.2 617.7 L617.6 617.5 L618.1 617.3 L618.6 617.0 L619.0 616.8 L619.5 616.6 L620.0 616.4 L620.4 616.2 L620.9 616.0 L621.3 615.8 L621.8 615.5 L622.3 615.3 L622.7 615.1 L623.2 614.9 L623.6 614.7 L624.1 614.5 L624.5 614.3 L625.0 614.0 L625.4 613.8 L625.9 613.6 L626.3 613.4 L626.8 613.2 L627.2 613.0 L627.7 612.8 L628.1 612.6 L628.6 612.4 L629.0 612.2 L629.5 611.9 L629.9 611.7 L630.4 611.5 L630.8 611.3 L631.3 611.1 L631.7 610.9 L632.1 610.7 L632.6 610.5 L633.0 610.3 L633.5 610.1 L633.9 609.9 L634.4 609.7 L634.8 609.5 L635.2 609.3 L635.7 609.0 L636.1 608.8 L636.5 608.6 L637.0 608.4 L637.4 608.2 L637.8 608.0 L638.3 607.8 L638.7 607.6 L639.1 607.4 L639.6 607.2 L640.0 607.0 L640.4 606.8 L640.9 606.6 L641.3 606.4 L641.7 606.2 L642.2 606.0 L642.6 605.8 L643.0 605.6 L643.4 605.4 L643.9 605.2 L644.3 605.0 L644.7 604.8 L645.2 604.6 L645.6 604.4 L646.0 604.2 L646.4 604.0 L646.9 603.8 L647.3 603.6 L647.7 603.4 L648.1 603.2 L648.5 603.0 L649.0 602.8 L649.4 602.6 L649.8 602.4 L650.2 602.2 L650.6 602.0 L651.1 601.8 L651.5 601.6 L651.9 601.4 L652.3 601.2 L652.7 601.0 L653.2 600.8 L653.6 600.6 L654.0 600.4 L654.4 600.2 L654.8 600.0 L655.2 599.9 L655.7 599.7 L656.1 599.5 L656.5 599.3 L656.9 599.1 L657.3 598.9 L657.7 598.7 L658.1 598.5 L658.5 598.3 L659.0 598.1 L659.4 597.9 L659.8 597.7 L660.2 597.5 L660.6 597.3 L661.0 597.1 L661.4 596.9 L661.8 596.7 L662.2 596.6 L662.7 596.4 L663.1 596.2 L663.5 596.0 L663.9 595.8 L664.3 595.6 L664.7 595.4 L665.1 595.2 L665.5 595.0 L665.9 594.8 L666.3 594.6 L666.7 594.4 L667.1 594.3 L667.5 594.1 L667.9 593.9 L668.3 593.7 L668.7 593.5 L669.2 593.3 L669.6 593.1 L670.0 592.9 L670.4 592.7 L670.8 592.5 L671.2 592.3 L671.6 592.2 L672.0 592.0 L672.4 591.8 L672.8 591.6 L673.2 591.4 L673.6 591.2 L674.0 591.0 L674.4 590.8 L674.8 590.6 L675.2 590.4 L675.6 590.3 L676.0 590.1 L676.4 589.9 L676.8 589.7 L677.2 589.5 L677.6 589.3 L678.0 589.1 L678.4 588.9 L678.8 588.8 L679.2 588.6 L679.6 588.4 L680.0 588.2 L680.4 588.0 L680.8 587.8 L681.2 587.6 L681.6 587.4 L681.9 587.2 L682.3 587.1 L682.7 586.9 L683.1 586.7 L683.5 586.5 L683.9 586.3 L684.3 586.1 L684.7 585.9 L685.1 585.8 L685.5 585.6 L685.9 585.4 L686.3 585.2 L686.7 585.0 L687.1 584.8 L687.5 584.6 L687.9 584.4 L688.3 584.3 L688.7 584.1 L689.1 583.9 L689.5 583.7 L689.8 583.5 L690.2 583.3 L690.6 583.1 L691.0 583.0 L691.4 582.8 L691.8 582.6 L692.2 582.4 L692.6 582.2 L693.0 582.0 L693.4 581.8 L693.8 581.6 L694.2 581.5 L694.6 581.3 L695.0 581.1 L695.3 580.9 L695.7 580.7 L696.1 580.5 L696.5 580.3 L696.9 580.2 L697.3 580.0 L697.7 579.8 L698.1 579.6 L698.5 579.4 L698.9 579.2 L699.3 579.0 L699.7 578.9 L700.0 578.7 L700.4 578.5 L700.8 578.3 L701.2 578.1 L701.6 577.9 L702.0 577.7 L702.4 577.6 L702.8 577.4 L703.2 577.2 L703.6 577.0 L704.0 576.8 L704.3 576.6 L704.7 576.4 L705.1 576.3 L705.5 576.1 L705.9 575.9 L706.3 575.7 L706.7 575.5 L707.1 575.3 L707.5 575.1 L707.9 575.0 L708.2 574.8 L708.6 574.6 L709.0 574.4 L709.4 574.2 L709.8 574.0 L710.2 573.9 L710.6 573.7 L711.0 573.5 L711.4 573.3 L711.8 573.1 L712.1 572.9 L712.5 572.7 L712.9 572.6 L713.3 572.4 L713.7 572.2 L714.1 572.0 L714.5 571.8 L714.9 571.6 L715.3 571.4 L715.7 571.3 L716.0 571.1 L716.4 570.9 L716.8 570.7 L717.2 570.5 L717.6 570.3 L718.0 570.1 L718.4 569.9 L718.8 569.8 L719.2 569.6 L719.6 569.4 L720.0 569.2 L720.3 569.0 L720.7 568.8 L721.1 568.6 L721.5 568.5 L721.9 568.3 L722.3 568.1 L722.7 567.9 L723.1 567.7 L723.5 567.5 L723.9 567.3 L724.3 567.2 L724.7 567.0 L725.0 566.8 L725.4 566.6 L725.8 566.4 L726.2 566.2 L726.6 566.0 L727.0 565.8 L727.4 565.7 L727.8 565.5 L728.2 565.3 L728.6 565.1 L729.0 564.9 L729.4 564.7 L729.8 564.5 L730.2 564.3 L730.5 564.2 L730.9 564.0 L731.3 563.8 L731.7 563.6 L732.1 563.4 L732.5 563.2 L732.9 563.0 L733.3 562.8 L733.7 562.7 L734.1 562.5 L734.5 562.3 L734.9 562.1 L735.3 561.9 L735.7 561.7 L736.1 561.5 L736.5 561.3 L736.9 561.1 L737.3 560.9 L737.7 560.8 L738.1 560.6 L738.4 560.4 L738.8 560.2 L739.2 560.0 L739.6 559.8 L740.0 559.6 L740.4 559.4 L740.8 559.2 L741.2 559.1 L741.6 558.9 L742.0 558.7 L742.4 558.5 L742.8 558.3 L743.2 558.1 L743.6 557.9 L744.0 557.7 L744.4 557.5 L744.8 557.3 L745.2 557.1 L745.6 556.9 L746.0 556.8 L746.4 556.6 L746.8 556.4 L747.2 556.2 L747.6 556.0 L748.0 555.8 L748.4 555.6 L748.8 555.4 L749.2 555.2 L749.6 555.0 L750.0 554.8 L750.4 554.6 L750.8 554.4 L751.3 554.3 L751.7 554.1 L752.1 553.9 L752.5 553.7 L752.9 553.5 L753.3 553.3 L753.7 553.1 L754.1 552.9 L754.5 552.7 L754.9 552.5 L755.3 552.3 L755.7 552.1 L756.1 551.9 L756.5 551.7 L756.9 551.5 L757.3 551.3 L757.8 551.1 L758.2 550.9 L758.6 550.7 L759.0 550.5 L759.4 550.3 L759.8 550.2 L760.2 550.0 L760.6 549.8 L761.0 549.6 L761.5 549.4 L761.9 549.2 L762.3 549.0 L762.7 548.8 L763.1 548.6 L763.5 548.4 L763.9 548.2 L764.3 548.0 L764.8 547.8 L765.2 547.6 L765.6 547.4 L766.0 547.2 L766.4 547.0 L766.8 546.8 L767.3 546.6 L767.7 546.4 L768.1 546.2 L768.5 546.0 L768.9 545.8 L769.4 545.6 L769.8 545.4 L770.2 545.2 L770.6 545.0 L771.0 544.8 L771.5 544.6 L771.9 544.4 L772.3 544.1 L772.7 543.9 L773.1 543.7 L773.6 543.5 L774.0 543.3 L774.4 543.1 L774.8 542.9 L775.3 542.7 L775.7 542.5 L776.1 542.3 L776.6 542.1 L777.0 541.9 L777.4 541.7 L777.8 541.5 L778.3 541.3 L778.7 541.1 L779.1 540.9 L779.6 540.7 L780.0 540.4 L780.4 540.2 L780.9 540.0 L781.3 539.8 L781.7 539.6 L782.2 539.4 L782.6 539.2 L783.0 539.0 L783.5 538.8 L783.9 538.6 L784.3 538.4 L784.8 538.1 L785.2 537.9 L785.6 537.7 L786.1 537.5 L786.5 537.3 L787.0 537.1 L787.4 536.9 L787.9 536.7 L788.3 536.4 L788.7 536.2 L789.2 536.0 L789.6 535.8 L790.1 535.6 L790.5 535.4 L791.0 535.2 L791.4 534.9 L791.9 534.7 L792.3 534.5 L792.8 534.3 L793.2 534.1 L793.7 533.9 L794.1 533.6 L794.6 533.4 L795.0 533.2 L795.5 533.0 L795.9 532.8 L796.4 532.5 L796.8 532.3 L797.3 532.1 L797.7 531.9 L798.2 531.7 L798.7 531.4 L799.1 531.2 L799.6 531.0 L800.0 530.8 L800.5 530.5 L801.0 530.3 L801.4 530.1 L801.9 529.9 L802.4 529.6 L802.8 529.4 L803.3 529.2 L803.8 529.0 L804.2 528.7 L804.7 528.5 L805.2 528.3 L805.6 528.1 L806.1 527.8 L806.6 527.6 L807.0 527.4 L807.5 527.1 L808.0 526.9 L808.5 526.7 L809.0 526.4 L809.4 526.2 L809.9 526.0 L810.4 525.7 L810.9 525.5 L811.4 525.3 L811.8 525.0 L812.3 524.8 L812.8 524.6 L813.3 524.3 L813.8 524.1 L814.3 523.9 L814.8 523.6 L815.2 523.4 L815.7 523.2 L816.2 522.9 L816.7 522.7 L817.2 522.4 L817.7 522.2 L818.2 522.0 L818.7 521.7 L819.2 521.5 L819.7 521.2 L820.2 521.0 L820.7 520.7 L821.2 520.5 L821.7 520.3 L822.2 520.0 L822.7 519.8 L823.2 519.5 L823.7 519.3 L824.2 519.0 L824.8 518.8 L825.3 518.5 L825.8 518.3 L826.3 518.0 L826.8 517.8 L827.3 517.5 L827.9 517.3 L828.4 517.0 L828.9 516.8 L829.4 516.5 L829.9 516.2 L830.5 516.0 L831.0 515.7 L831.5 515.5 L832.1 515.2 L832.6 515.0 L833.1 514.7 L833.7 514.4 L834.2 514.2 L834.7 513.9 L835.3 513.6 L835.8 513.4 L836.3 513.1 L836.9 512.9 L837.4 512.6 L838.0 512.3 L838.5 512.1 L839.1 511.8 L839.6 511.5 L840.2 511.2 L840.7 511.0 L841.3 510.7 L841.8 510.4 L842.4 510.2 L843.0 509.9 L843.5 509.6 L844.1 509.3 L844.7 509.1 L845.2 508.8 L845.8 508.5 L846.4 508.2 L846.9 507.9 L847.5 507.7 L848.1 507.4 L848.7 507.1 L849.3 506.8 L849.8 506.5 L850.4 506.2 L851.0 505.9 L851.6 505.7 L852.2 505.4 L852.8 505.1 L853.4 504.8 L854.0 504.5 L854.6 504.2 L855.2 503.9 L855.8 503.6 L856.4 503.3 L857.0 503.0 L857.6 502.7 L858.2 502.4 L858.8 502.1 L859.5 501.8 L860.1 501.5 L860.7 501.2 L861.3 500.9 L862.0 500.6 L862.6 500.3 L863.2 499.9 L863.8 499.6 L864.5 499.3 L865.1 499.0 L865.8 498.7 L866.4 498.4 L867.1 498.1 L867.7 497.7 L868.4 497.4 L869.0 497.1 L869.7 496.8 L870.3 496.4 L871.0 496.1 L871.7 495.8 L872.3 495.4 L873.0 495.1 L873.7 494.8 L874.4 494.4 L875.1 494.1 L875.7 493.8 L876.4 493.4 L877.1 493.1 L877.8 492.7 L878.5 492.4 L879.2 492.0 L879.9 491.7 L880.6 491.3 L881.4 491.0 L882.1 490.6 L882.8 490.3 L883.5 489.9 L884.2 489.6 L885.0 489.2 L885.7 488.8 L886.5 488.5 L887.2 488.1 L887.9 487.7 L888.7 487.4 L889.5 487.0 L890.2 486.6 L891.0 486.2 L891.7 485.8 L892.5 485.5 L893.3 485.1 L894.1 484.7 L894.9 484.3 L895.7 483.9 L896.5 483.5 L897.3 483.1 L898.1 482.7 L898.9 482.3 L899.7 481.9 L900.5 481.5 L901.3 481.1 L902.2 480.6 L903.0 480.2 L903.9 479.8 L904.7 479.4 L905.6 478.9 L906.4 478.5 L907.3 478.1 L908.2 477.6 L909.1 477.2 L909.9 476.8 L910.8 476.3 L911.7 475.9 L912.6 475.4 L913.6 474.9 L914.5 474.5 L915.4 474.0 L916.3 473.6 L917.3 473.1 L918.2 472.6 L919.2 472.1 L920.2 471.6 L921.1 471.1 L922.1 470.6 L923.1 470.1 L924.1 469.6 L925.1 469.1 L926.1 468.6 L927.2 468.1 L928.2 467.6 L929.2 467.0 L930.3 466.5 L931.4 466.0 L932.5 465.4 L933.5 464.9 L934.6 464.3 L935.7 463.8 L936.9 463.2 L938.0 462.6 L939.2 462.0 L940.3 461.4 L941.5 460.8 L942.7 460.2 L943.9 459.6 L945.1 459.0 L946.3 458.4 L947.6 457.7 L948.8 457.1 L950.1 456.4 L951.4 455.8 L952.7 455.1 L954.0 454.4 L955.3 453.8 L956.7 453.1 L958.1 452.3 L959.5 451.6 L960.9 450.9 L962.3 450.1 L963.8 449.4 L965.3 448.6 L966.8 447.8 L968.3 447.1 L969.9 446.2 L971.5 445.4 L973.1 444.6 L974.7 443.7 L976.4 442.9 L978.1 442.0 L979.9 441.1 L981.6 440.1 L983.4 439.2 L985.3 438.2 L987.2 437.2 L989.1 436.2 L991.1 435.2 L993.1 434.1 L995.1 433.0 L997.2 431.9 L999.4 430.8 L1001.6 429.6 L1003.9 428.4 L1006.3 427.1 L1008.7 425.8 L1011.2 424.5 L1013.8 423.1 L1016.4 421.6 L1019.2 420.1 L1022.1 418.6 L1025.0 417.0 L1028.1 415.3 L1031.3 413.5 L1034.7 411.7 L1038.2 409.7 L1041.9 407.6 L1045.8 405.5 L1049.9 403.2 L1054.3 400.7 L1058.9 398.0 L1063.9 395.2 L1069.3 392.0 L1075.1 388.6 L1081.5 384.8 L1088.6 380.5 L1096.6 375.6 L1105.8 369.9 L1116.6 363.0 L1129.8 354.3 L1147.0 342.4 L1172.0 323.6 L1222.2 278.4 L1222.2 393.8 L1172.0 396.4 L1147.0 401.4 L1129.8 405.8 L1116.6 409.7 L1105.8 413.0 L1096.6 416.0 L1088.6 418.8 L1081.5 421.2 L1075.1 423.5 L1069.3 425.7 L1063.9 427.7 L1058.9 429.5 L1054.3 431.3 L1049.9 433.0 L1045.8 434.6 L1041.9 436.1 L1038.2 437.5 L1034.7 438.9 L1031.3 440.3 L1028.1 441.6 L1025.0 442.8 L1022.1 444.0 L1019.2 445.2 L1016.4 446.3 L1013.8 447.4 L1011.2 448.5 L1008.7 449.5 L1006.3 450.5 L1003.9 451.5 L1001.6 452.4 L999.4 453.4 L997.2 454.3 L995.1 455.2 L993.1 456.1 L991.1 456.9 L989.1 457.7 L987.2 458.6 L985.3 459.4 L983.4 460.1 L981.6 460.9 L979.9 461.7 L978.1 462.4 L976.4 463.2 L974.7 463.9 L973.1 464.6 L971.5 465.3 L969.9 466.0 L968.3 466.6 L966.8 467.3 L965.3 468.0 L963.8 468.6 L962.3 469.2 L960.9 469.9 L959.5 470.5 L958.1 471.1 L956.7 471.7 L955.3 472.3 L954.0 472.9 L952.7 473.5 L951.4 474.0 L950.1 474.6 L948.8 475.2 L947.6 475.7 L946.3 476.3 L945.1 476.8 L943.9 477.3 L942.7 477.9 L941.5 478.4 L940.3 478.9 L939.2 479.4 L938.0 479.9 L936.9 480.4 L935.7 480.9 L934.6 481.4 L933.5 481.9 L932.5 482.4 L931.4 482.9 L930.3 483.4 L929.2 483.8 L928.2 484.3 L927.2 484.8 L926.1 485.2 L925.1 485.7 L924.1 486.1 L923.1 486.6 L922.1 487.0 L921.1 487.4 L920.2 487.9 L919.2 488.3 L918.2 488.7 L917.3 489.2 L916.3 489.6 L915.4 490.0 L914.5 490.4 L913.6 490.8 L912.6 491.3 L911.7 491.7 L910.8 492.1 L909.9 492.5 L909.1 492.9 L908.2 493.3 L907.3 493.7 L906.4 494.1 L905.6 494.4 L904.7 494.8 L903.9 495.2 L903.0 495.6 L902.2 496.0 L901.3 496.3 L900.5 496.7 L899.7 497.1 L898.9 497.5 L898.1 497.8 L897.3 498.2 L896.5 498.6 L895.7 498.9 L894.9 499.3 L894.1 499.6 L893.3 500.0 L892.5 500.3 L891.7 500.7 L891.0 501.0 L890.2 501.4 L889.5 501.7 L888.7 502.1 L887.9 502.4 L887.2 502.8 L886.5 503.1 L885.7 503.4 L885.0 503.8 L884.2 504.1 L883.5 504.4 L882.8 504.8 L882.1 505.1 L881.4 505.4 L880.6 505.7 L879.9 506.1 L879.2 506.4 L878.5 506.7 L877.8 507.0 L877.1 507.4 L876.4 507.7 L875.7 508.0 L875.1 508.3 L874.4 508.6 L873.7 508.9 L873.0 509.2 L872.3 509.5 L871.7 509.8 L871.0 510.2 L870.3 510.5 L869.7 510.8 L869.0 511.1 L868.4 511.4 L867.7 511.7 L867.1 512.0 L866.4 512.3 L865.8 512.6 L865.1 512.8 L864.5 513.1 L863.8 513.4 L863.2 513.7 L862.6 514.0 L862.0 514.3 L861.3 514.6 L860.7 514.9 L860.1 515.2 L859.5 515.4 L858.8 515.7 L858.2 516.0 L857.6 516.3 L857.0 516.6 L856.4 516.9 L855.8 517.1 L855.2 517.4 L854.6 517.7 L854.0 518.0 L853.4 518.2 L852.8 518.5 L852.2 518.8 L851.6 519.1 L851.0 519.3 L850.4 519.6 L849.8 519.9 L849.3 520.1 L848.7 520.4 L848.1 520.7 L847.5 520.9 L846.9 521.2 L846.4 521.5 L845.8 521.7 L845.2 522.0 L844.7 522.3 L844.1 522.5 L843.5 522.8 L843.0 523.0 L842.4 523.3 L841.8 523.6 L841.3 523.8 L840.7 524.1 L840.2 524.3 L839.6 524.6 L839.1 524.8 L838.5 525.1 L838.0 525.4 L837.4 525.6 L836.9 525.9 L836.3 526.1 L835.8 526.4 L835.3 526.6 L834.7 526.9 L834.2 527.1 L833.7 527.4 L833.1 527.6 L832.6 527.8 L832.1 528.1 L831.5 528.3 L831.0 528.6 L830.5 528.8 L829.9 529.1 L829.4 529.3 L828.9 529.6 L828.4 529.8 L827.9 530.0 L827.3 530.3 L826.8 530.5 L826.3 530.8 L825.8 531.0 L825.3 531.2 L824.8 531.5 L824.2 531.7 L823.7 532.0 L823.2 532.2 L822.7 532.4 L822.2 532.7 L821.7 532.9 L821.2 533.1 L820.7 533.4 L820.2 533.6 L819.7 533.8 L819.2 534.1 L818.7 534.3 L818.2 534.5 L817.7 534.8 L817.2 535.0 L816.7 535.2 L816.2 535.4 L815.7 535.7 L815.2 535.9 L814.8 536.1 L814.3 536.4 L813.8 536.6 L813.3 536.8 L812.8 537.0 L812.3 537.3 L811.8 537.5 L811.4 537.7 L810.9 537.9 L810.4 538.2 L809.9 538.4 L809.4 538.6 L809.0 538.8 L808.5 539.1 L808.0 539.3 L807.5 539.5 L807.0 539.7 L806.6 539.9 L806.1 540.2 L805.6 540.4 L805.2 540.6 L804.7 540.8 L804.2 541.0 L803.8 541.3 L803.3 541.5 L802.8 541.7 L802.4 541.9 L801.9 542.1 L801.4 542.3 L801.0 542.6 L800.5 542.8 L800.0 543.0 L799.6 543.2 L799.1 543.4 L798.7 543.6 L798.2 543.9 L797.7 544.1 L797.3 544.3 L796.8 544.5 L796.4 544.7 L795.9 544.9 L795.5 545.1 L795.0 545.3 L794.6 545.6 L794.1 545.8 L793.7 546.0 L793.2 546.2 L792.8 546.4 L792.3 546.6 L791.9 546.8 L791.4 547.0 L791.0 547.2 L790.5 547.4 L790.1 547.7 L789.6 547.9 L789.2 548.1 L788.7 548.3 L788.3 548.5 L787.9 548.7 L787.4 548.9 L787.0 549.1 L786.5 549.3 L786.1 549.5 L785.6 549.7 L785.2 549.9 L784.8 550.1 L784.3 550.3 L783.9 550.5 L783.5 550.8 L783.0 551.0 L782.6 551.2 L782.2 551.4 L781.7 551.6 L781.3 551.8 L780.9 552.0 L780.4 552.2 L780.0 552.4 L779.6 552.6 L779.1 552.8 L778.7 553.0 L778.3 553.2 L777.8 553.4 L777.4 553.6 L777.0 553.8 L776.6 554.0 L776.1 554.2 L775.7 554.4 L775.3 554.6 L774.8 554.8 L774.4 555.0 L774.0 555.2 L773.6 555.4 L773.1 555.6 L772.7 555.8 L772.3 556.0 L771.9 556.2 L771.5 556.4 L771.0 556.6 L770.6 556.8 L770.2 557.0 L769.8 557.2 L769.4 557.4 L768.9 557.6 L768.5 557.8 L768.1 558.0 L767.7 558.2 L767.3 558.4 L766.8 558.6 L766.4 558.8 L766.0 558.9 L765.6 559.1 L765.2 559.3 L764.8 559.5 L764.3 559.7 L763.9 559.9 L763.5 560.1 L763.1 560.3 L762.7 560.5 L762.3 560.7 L761.9 560.9 L761.5 561.1 L761.0 561.3 L760.6 561.5 L760.2 561.7 L759.8 561.9 L759.4 562.1 L759.0 562.3 L758.6 562.4 L758.2 562.6 L757.8 562.8 L757.3 563.0 L756.9 563.2 L756.5 563.4 L756.1 563.6 L755.7 563.8 L755.3 564.0 L754.9 564.2 L754.5 564.4 L754.1 564.6 L753.7 564.8 L753.3 564.9 L752.9 565.1 L752.5 565.3 L752.1 565.5 L751.7 565.7 L751.3 565.9 L750.8 566.1 L750.4 566.3 L750.0 566.5 L749.6 566.7 L749.2 566.9 L748.8 567.0 L748.4 567.2 L748.0 567.4 L747.6 567.6 L747.2 567.8 L746.8 568.0 L746.4 568.2 L746.0 568.4 L745.6 568.6 L745.2 568.7 L744.8 568.9 L744.4 569.1 L744.0 569.3 L743.6 569.5 L743.2 569.7 L742.8 569.9 L742.4 570.1 L742.0 570.3 L741.6 570.4 L741.2 570.6 L740.8 570.8 L740.4 571.0 L740.0 571.2 L739.6 571.4 L739.2 571.6 L738.8 571.8 L738.4 572.0 L738.1 572.1 L737.7 572.3 L737.3 572.5 L736.9 572.7 L736.5 572.9 L736.1 573.1 L735.7 573.3 L735.3 573.5 L734.9 573.6 L734.5 573.8 L734.1 574.0 L733.7 574.2 L733.3 574.4 L732.9 574.6 L732.5 574.8 L732.1 574.9 L731.7 575.1 L731.3 575.3 L730.9 575.5 L730.5 575.7 L730.2 575.9 L729.8 576.1 L729.4 576.3 L729.0 576.4 L728.6 576.6 L728.2 576.8 L727.8 577.0 L727.4 577.2 L727.0 577.4 L726.6 577.6 L726.2 577.7 L725.8 577.9 L725.4 578.1 L725.0 578.3 L724.7 578.5 L724.3 578.7 L723.9 578.9 L723.5 579.0 L723.1 579.2 L722.7 579.4 L722.3 579.6 L721.9 579.8 L721.5 580.0 L721.1 580.2 L720.7 580.3 L720.3 580.5 L720.0 580.7 L719.6 580.9 L719.2 581.1 L718.8 581.3 L718.4 581.5 L718.0 581.6 L717.6 581.8 L717.2 582.0 L716.8 582.2 L716.4 582.4 L716.0 582.6 L715.7 582.8 L715.3 582.9 L714.9 583.1 L714.5 583.3 L714.1 583.5 L713.7 583.7 L713.3 583.9 L712.9 584.1 L712.5 584.2 L712.1 584.4 L711.8 584.6 L711.4 584.8 L711.0 585.0 L710.6 585.2 L710.2 585.4 L709.8 585.5 L709.4 585.7 L709.0 585.9 L708.6 586.1 L708.2 586.3 L707.9 586.5 L707.5 586.7 L707.1 586.8 L706.7 587.0 L706.3 587.2 L705.9 587.4 L705.5 587.6 L705.1 587.8 L704.7 588.0 L704.3 588.1 L704.0 588.3 L703.6 588.5 L703.2 588.7 L702.8 588.9 L702.4 589.1 L702.0 589.3 L701.6 589.4 L701.2 589.6 L700.8 589.8 L700.4 590.0 L700.0 590.2 L699.7 590.4 L699.3 590.6 L698.9 590.7 L698.5 590.9 L698.1 591.1 L697.7 591.3 L697.3 591.5 L696.9 591.7 L696.5 591.9 L696.1 592.0 L695.7 592.2 L695.3 592.4 L695.0 592.6 L694.6 592.8 L694.2 593.0 L693.8 593.2 L693.4 593.4 L693.0 593.5 L692.6 593.7 L692.2 593.9 L691.8 594.1 L691.4 594.3 L691.0 594.5 L690.6 594.7 L690.2 594.9 L689.8 595.0 L689.5 595.2 L689.1 595.4 L688.7 595.6 L688.3 595.8 L687.9 596.0 L687.5 596.2 L687.1 596.4 L686.7 596.5 L686.3 596.7 L685.9 596.9 L685.5 597.1 L685.1 597.3 L684.7 597.5 L684.3 597.7 L683.9 597.9 L683.5 598.1 L683.1 598.2 L682.7 598.4 L682.3 598.6 L681.9 598.8 L681.6 599.0 L681.2 599.2 L680.8 599.4 L680.4 599.6 L680.0 599.8 L679.6 600.0 L679.2 600.1 L678.8 600.3 L678.4 600.5 L678.0 600.7 L677.6 600.9 L677.2 601.1 L676.8 601.3 L676.4 601.5 L676.0 601.7 L675.6 601.9 L675.2 602.1 L674.8 602.2 L674.4 602.4 L674.0 602.6 L673.6 602.8 L673.2 603.0 L672.8 603.2 L672.4 603.4 L672.0 603.6 L671.6 603.8 L671.2 604.0 L670.8 604.2 L670.4 604.4 L670.0 604.6 L669.6 604.7 L669.2 604.9 L668.7 605.1 L668.3 605.3 L667.9 605.5 L667.5 605.7 L667.1 605.9 L666.7 606.1 L666.3 606.3 L665.9 606.5 L665.5 606.7 L665.1 606.9 L664.7 607.1 L664.3 607.3 L663.9 607.5 L663.5 607.7 L663.1 607.9 L662.7 608.1 L662.2 608.3 L661.8 608.5 L661.4 608.6 L661.0 608.8 L660.6 609.0 L660.2 609.2 L659.8 609.4 L659.4 609.6 L659.0 609.8 L658.5 610.0 L658.1 610.2 L657.7 610.4 L657.3 610.6 L656.9 610.8 L656.5 611.0 L656.1 611.2 L655.7 611.4 L655.2 611.6 L654.8 611.8 L654.4 612.0 L654.0 612.2 L653.6 612.4 L653.2 612.6 L652.7 612.8 L652.3 613.0 L651.9 613.2 L651.5 613.4 L651.1 613.6 L650.6 613.8 L650.2 614.0 L649.8 614.2 L649.4 614.4 L649.0 614.6 L648.5 614.8 L648.1 615.0 L647.7 615.2 L647.3 615.4 L646.9 615.6 L646.4 615.9 L646.0 616.1 L645.6 616.3 L645.2 616.5 L644.7 616.7 L644.3 616.9 L643.9 617.1 L643.4 617.3 L643.0 617.5 L642.6 617.7 L642.2 617.9 L641.7 618.1 L641.3 618.3 L640.9 618.5 L640.4 618.7 L640.0 618.9 L639.6 619.2 L639.1 619.4 L638.7 619.6 L638.3 619.8 L637.8 620.0 L637.4 620.2 L637.0 620.4 L636.5 620.6 L636.1 620.8 L635.7 621.0 L635.2 621.2 L634.8 621.5 L634.4 621.7 L633.9 621.9 L633.5 622.1 L633.0 622.3 L632.6 622.5 L632.1 622.7 L631.7 622.9 L631.3 623.2 L630.8 623.4 L630.4 623.6 L629.9 623.8 L629.5 624.0 L629.0 624.2 L628.6 624.5 L628.1 624.7 L627.7 624.9 L627.2 625.1 L626.8 625.3 L626.3 625.5 L625.9 625.8 L625.4 626.0 L625.0 626.2 L624.5 626.4 L624.1 626.6 L623.6 626.9 L623.2 627.1 L622.7 627.3 L622.3 627.5 L621.8 627.7 L621.3 628.0 L620.9 628.2 L620.4 628.4 L620.0 628.6 L619.5 628.8 L619.0 629.1 L618.6 629.3 L618.1 629.5 L617.6 629.7 L617.2 630.0 L616.7 630.2 L616.2 630.4 L615.8 630.6 L615.3 630.9 L614.8 631.1 L614.4 631.3 L613.9 631.6 L613.4 631.8 L613.0 632.0 L612.5 632.2 L612.0 632.5 L611.5 632.7 L611.0 632.9 L610.6 633.2 L610.1 633.4 L609.6 633.6 L609.1 633.9 L608.6 634.1 L608.2 634.3 L607.7 634.6 L607.2 634.8 L606.7 635.0 L606.2 635.3 L605.7 635.5 L605.2 635.8 L604.8 636.0 L604.3 636.2 L603.8 636.5 L603.3 636.7 L602.8 637.0 L602.3 637.2 L601.8 637.4 L601.3 637.7 L600.8 637.9 L600.3 638.2 L599.8 638.4 L599.3 638.6 L598.8 638.9 L598.3 639.1 L597.8 639.4 L597.3 639.6 L596.8 639.9 L596.3 640.1 L595.8 640.4 L595.2 640.6 L594.7 640.9 L594.2 641.1 L593.7 641.4 L593.2 641.6 L592.7 641.9 L592.1 642.1 L591.6 642.4 L591.1 642.6 L590.6 642.9 L590.1 643.1 L589.5 643.4 L589.0 643.7 L588.5 643.9 L587.9 644.2 L587.4 644.4 L586.9 644.7 L586.3 645.0 L585.8 645.2 L585.3 645.5 L584.7 645.7 L584.2 646.0 L583.7 646.3 L583.1 646.5 L582.6 646.8 L582.0 647.1 L581.5 647.3 L580.9 647.6 L580.4 647.9 L579.8 648.1 L579.3 648.4 L578.7 648.7 L578.2 649.0 L577.6 649.2 L577.0 649.5 L576.5 649.8 L575.9 650.1 L575.3 650.3 L574.8 650.6 L574.2 650.9 L573.6 651.2 L573.1 651.5 L572.5 651.7 L571.9 652.0 L571.3 652.3 L570.7 652.6 L570.2 652.9 L569.6 653.2 L569.0 653.4 L568.4 653.7 L567.8 654.0 L567.2 654.3 L566.6 654.6 L566.0 654.9 L565.4 655.2 L564.8 655.5 L564.2 655.8 L563.6 656.1 L563.0 656.4 L562.4 656.7 L561.8 657.0 L561.2 657.3 L560.5 657.6 L559.9 657.9 L559.3 658.2 L558.7 658.5 L558.0 658.8 L557.4 659.1 L556.8 659.4 L556.2 659.8 L555.5 660.1 L554.9 660.4 L554.2 660.7 L553.6 661.0 L552.9 661.3 L552.3 661.7 L551.6 662.0 L551.0 662.3 L550.3 662.6 L549.7 663.0 L549.0 663.3 L548.3 663.6 L547.7 663.9 L547.0 664.3 L546.3 664.6 L545.6 664.9 L544.9 665.3 L544.3 665.6 L543.6 666.0 L542.9 666.3 L542.2 666.6 L541.5 667.0 L540.8 667.3 L540.1 667.7 L539.4 668.0 L538.6 668.4 L537.9 668.7 L537.2 669.1 L536.5 669.5 L535.8 669.8 L535.0 670.2 L534.3 670.6 L533.5 670.9 L532.8 671.3 L532.1 671.7 L531.3 672.0 L530.5 672.4 L529.8 672.8 L529.0 673.2 L528.3 673.5 L527.5 673.9 L526.7 674.3 L525.9 674.7 L525.1 675.1 L524.3 675.5 L523.5 675.9 L522.7 676.3 L521.9 676.7 L521.1 677.1 L520.3 677.5 L519.5 677.9 L518.7 678.3 L517.8 678.7 L517.0 679.2 L516.1 679.6 L515.3 680.0 L514.4 680.4 L513.6 680.9 L512.7 681.3 L511.8 681.7 L510.9 682.2 L510.1 682.6 L509.2 683.1 L508.3 683.5 L507.4 684.0 L506.4 684.4 L505.5 684.9 L504.6 685.4 L503.7 685.8 L502.7 686.3 L501.8 686.8 L500.8 687.3 L499.8 687.8 L498.9 688.2 L497.9 688.7 L496.9 689.2 L495.9 689.7 L494.9 690.3 L493.9 690.8 L492.8 691.3 L491.8 691.8 L490.8 692.3 L489.7 692.9 L488.6 693.4 L487.5 694.0 L486.5 694.5 L485.4 695.1 L484.3 695.6 L483.1 696.2 L482.0 696.8 L480.8 697.4 L479.7 698.0 L478.5 698.6 L477.3 699.2 L476.1 699.8 L474.9 700.4 L473.7 701.0 L472.4 701.6 L471.2 702.3 L469.9 702.9 L468.6 703.6 L467.3 704.3 L466.0 704.9 L464.7 705.6 L463.3 706.3 L461.9 707.0 L460.5 707.8 L459.1 708.5 L457.7 709.2 L456.2 710.0 L454.7 710.8 L453.2 711.5 L451.7 712.3 L450.1 713.1 L448.5 714.0 L446.9 714.8 L445.3 715.7 L443.6 716.5 L441.9 717.4 L440.1 718.3 L438.4 719.3 L436.6 720.2 L434.7 721.2 L432.8 722.2 L430.9 723.2 L428.9 724.2 L426.9 725.3 L424.9 726.4 L422.8 727.5 L420.6 728.6 L418.4 729.8 L416.1 731.0 L413.7 732.3 L411.3 733.6 L408.8 734.9 L406.2 736.3 L403.6 737.8 L400.8 739.3 L397.9 740.8 L395.0 742.4 L391.9 744.1 L388.7 745.9 L385.3 747.7 L381.8 749.7 L378.1 751.7 L374.2 753.9 L370.1 756.2 L365.7 758.7 L361.1 761.4 L356.1 764.2 L350.7 767.4 L344.9 770.8 L338.5 774.6 L331.4 778.9 L323.4 783.8 L314.2 789.5 L303.4 796.4 L290.2 805.1 L273.0 817.0 L248.0 835.8 L197.8 881.0 Z" fill="#2e0f12" fill-opacity="0.15" stroke="#2e0f12" stroke-width="2" stroke-linejoin="round" shape-rendering="crispEdges"/>
</g>
<text x="1211.5" y="190" font-size="32" text-anchor="end">884</text>
<text x="1163" y="195" font-size="32" text-anchor="end">149</text>
<text x="243" y="833.6" font-size="32" text-anchor="middle">-3</text>
<text x="399" y="833.6" font-size="32" text-anchor="middle">-2</text>
<text x="554" y="833.6" font-size="32" text-anchor="middle">-1</text>
<text x="710" y="833.6" font-size="32" text-anchor="middle">0</text>
<text x="866" y="833.6" font-size="32" text-anchor="middle">1</text>
<text x="1021" y="833.6" font-size="32" text-anchor="middle">2</text>
<text x="1177" y="833.6" font-size="32" text-anchor="middle">3</text>
<text transform="translate(112.3 704.6) rotate(-90)" font-size="32" text-anchor="middle">1.0</text>
<text transform="translate(112.3 593.9) rotate(-90)" font-size="32" text-anchor="middle">1.5</text>
<text transform="translate(112.3 483.1) rotate(-90)" font-size="32" text-anchor="middle">2.0</text>
<text transform="translate(112.3 372.4) rotate(-90)" font-size="32" text-anchor="middle">2.5</text>
<text transform="translate(112.3 261.6) rotate(-90)" font-size="32" text-anchor="middle">3.0</text>
<text x="710" y="93" font-size="38.4" font-weight="bold" class="b" text-anchor="middle">Gráfico de cuantil-cuantil (Q-Q plot)</text>
<text x="710" y="910.4" font-size="32" text-anchor="middle">Cuantiles teóricos (normales)</text>
<text transform="translate(35 460.5) rotate(-90)" font-size="32" text-anchor="middle">Distribución</text>
</svg></body></html>
